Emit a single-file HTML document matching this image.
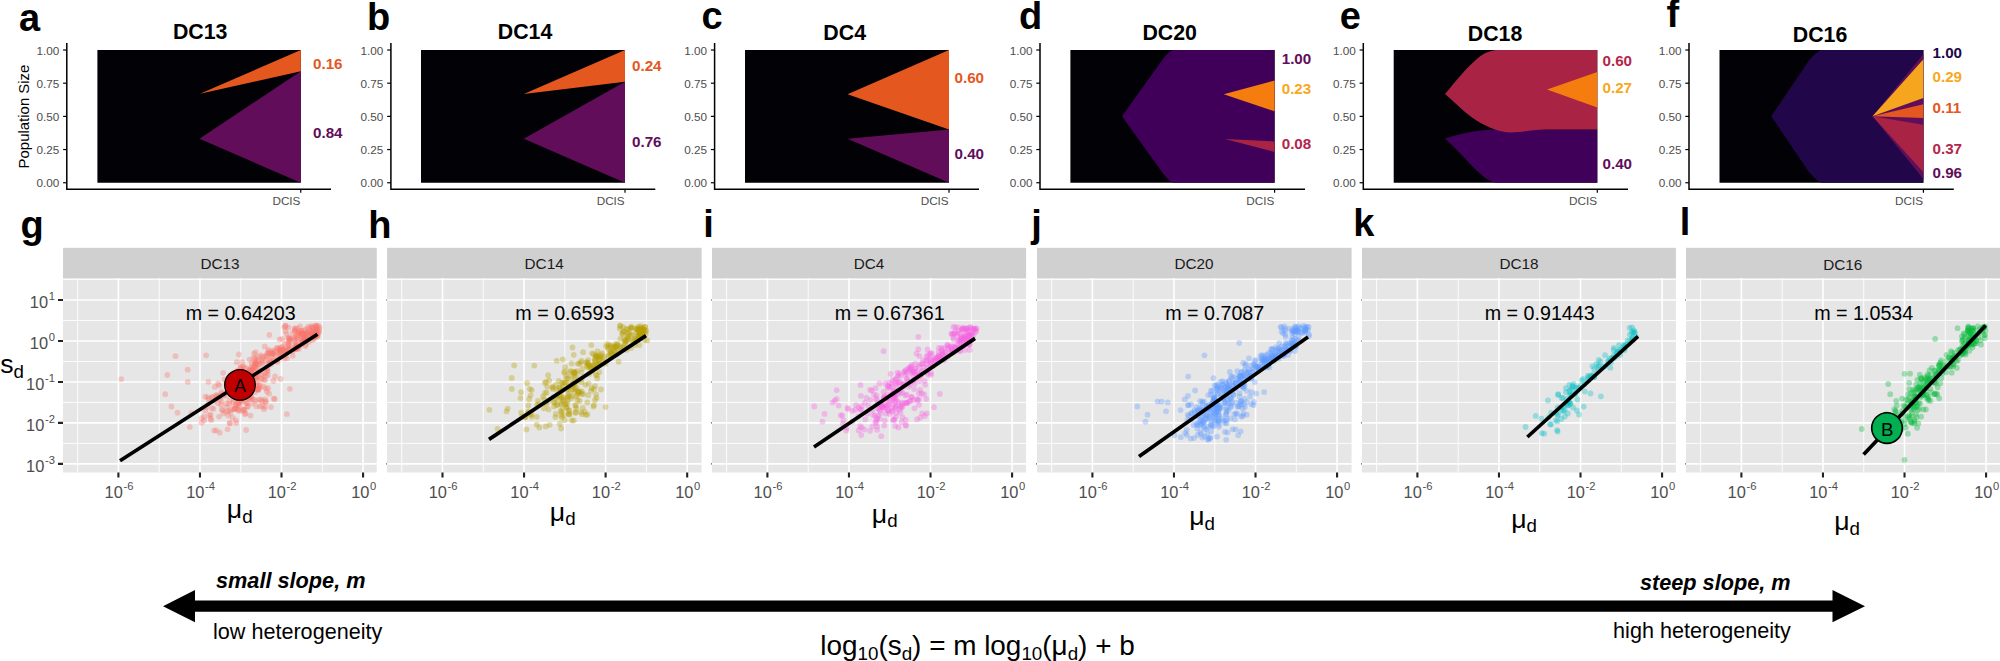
<!DOCTYPE html>
<html lang="en">
<head>
<meta charset="utf-8">
<title>Clonal heterogeneity figure</title>
<style>
html,body{margin:0;padding:0;background:#fff}
body{width:2000px;height:661px;overflow:hidden}
svg{display:block}
text{font-family:"Liberation Sans", Arial, Helvetica, sans-serif;fill:#000}
.pl{font-size:38px;font-weight:700}
.tt{font-size:21.33px;font-weight:700}
.tk{font-size:11.73px;fill:#4D4D4D}
.yl{font-size:14.95px}
.cl{font-size:15.2px;font-weight:700}
.st{font-size:15.3px;fill:#1A1A1A}
.lg{font-size:16.4px;fill:#4D4D4D}
.sp{font-size:11.2px}
.at{font-size:26.67px}
.sb{font-size:18.7px}
.mt{font-size:19.7px}
.mk{font-size:17.5px}
.bi{font-size:21.7px;font-weight:700;font-style:italic}
.cp{font-size:21.6px}
.fm{font-size:27.9px}
.fs{font-size:18.8px}
</style>
</head>
<body>
<svg width="2000" height="661" viewBox="0 0 2000 661">
<rect width="2000" height="661" fill="#fff"/>
<g id="top">
<text transform="translate(29.2 116.5) rotate(-90)" class="yl" text-anchor="middle">Population Size</text>
<path d="M66.8 43.1V189.3H331" fill="none" stroke="#000" stroke-width="1.5"/>
<path d="M63.1 182.75H66.8" stroke="#000" stroke-width="1.2"/>
<text x="59.3" y="187.35" class="tk" text-anchor="end">0.00</text>
<path d="M63.1 149.56H66.8" stroke="#000" stroke-width="1.2"/>
<text x="59.3" y="154.16" class="tk" text-anchor="end">0.25</text>
<path d="M63.1 116.38H66.8" stroke="#000" stroke-width="1.2"/>
<text x="59.3" y="120.97" class="tk" text-anchor="end">0.50</text>
<path d="M63.1 83.19H66.8" stroke="#000" stroke-width="1.2"/>
<text x="59.3" y="87.79" class="tk" text-anchor="end">0.75</text>
<path d="M63.1 50H66.8" stroke="#000" stroke-width="1.2"/>
<text x="59.3" y="54.6" class="tk" text-anchor="end">1.00</text>
<path d="M300.75 189.3V192.8" stroke="#000" stroke-width="1.2"/>
<text x="300.45" y="205.2" class="tk" text-anchor="end">DCIS</text>
<text x="19.1" y="30.6" class="pl">a</text>
<text x="200.2" y="38.7" class="tt" text-anchor="middle">DC13</text>
<rect x="97.4" y="50" width="203.4" height="132.75" fill="#020206"/>
<polygon points="200,93.75 300.8,50 300.8,71.24" fill="#E4571F"/>
<polygon points="199.5,138.75 300.8,71.24 300.8,182.75" fill="#620D5A"/>
<text x="313" y="68.6" class="cl" style="fill:#E4571F">0.16</text>
<text x="313" y="137.8" class="cl" style="fill:#620D5A">0.84</text>
<path d="M390.9 43.1V189.3H655.3" fill="none" stroke="#000" stroke-width="1.5"/>
<path d="M387.2 182.75H390.9" stroke="#000" stroke-width="1.2"/>
<text x="383.4" y="187.35" class="tk" text-anchor="end">0.00</text>
<path d="M387.2 149.56H390.9" stroke="#000" stroke-width="1.2"/>
<text x="383.4" y="154.16" class="tk" text-anchor="end">0.25</text>
<path d="M387.2 116.38H390.9" stroke="#000" stroke-width="1.2"/>
<text x="383.4" y="120.97" class="tk" text-anchor="end">0.50</text>
<path d="M387.2 83.19H390.9" stroke="#000" stroke-width="1.2"/>
<text x="383.4" y="87.79" class="tk" text-anchor="end">0.75</text>
<path d="M387.2 50H390.9" stroke="#000" stroke-width="1.2"/>
<text x="383.4" y="54.6" class="tk" text-anchor="end">1.00</text>
<path d="M625 189.3V192.8" stroke="#000" stroke-width="1.2"/>
<text x="624.7" y="205.2" class="tk" text-anchor="end">DCIS</text>
<text x="367" y="30.2" class="pl">b</text>
<text x="525" y="39" class="tt" text-anchor="middle">DC14</text>
<rect x="421" y="50" width="204" height="132.75" fill="#020206"/>
<polygon points="523.75,94 625,50 625,81.75" fill="#E4571F"/>
<polygon points="523.75,138.75 625,81.75 625,182.75" fill="#620D5A"/>
<text x="632" y="71.3" class="cl" style="fill:#E4571F">0.24</text>
<text x="632" y="147.1" class="cl" style="fill:#620D5A">0.76</text>
<path d="M714.6 43.1V189.3H979" fill="none" stroke="#000" stroke-width="1.5"/>
<path d="M710.9 182.75H714.6" stroke="#000" stroke-width="1.2"/>
<text x="707.1" y="187.35" class="tk" text-anchor="end">0.00</text>
<path d="M710.9 149.56H714.6" stroke="#000" stroke-width="1.2"/>
<text x="707.1" y="154.16" class="tk" text-anchor="end">0.25</text>
<path d="M710.9 116.38H714.6" stroke="#000" stroke-width="1.2"/>
<text x="707.1" y="120.97" class="tk" text-anchor="end">0.50</text>
<path d="M710.9 83.19H714.6" stroke="#000" stroke-width="1.2"/>
<text x="707.1" y="87.79" class="tk" text-anchor="end">0.75</text>
<path d="M710.9 50H714.6" stroke="#000" stroke-width="1.2"/>
<text x="707.1" y="54.6" class="tk" text-anchor="end">1.00</text>
<path d="M949 189.3V192.8" stroke="#000" stroke-width="1.2"/>
<text x="948.7" y="205.2" class="tk" text-anchor="end">DCIS</text>
<text x="701.5" y="29.3" class="pl">c</text>
<text x="844.7" y="40" class="tt" text-anchor="middle">DC4</text>
<rect x="745" y="50" width="204" height="132.75" fill="#020206"/>
<polygon points="847.5,94.25 949,50 949,129.5" fill="#E4571F"/>
<polygon points="847.5,138.75 949,129.5 949,182.75" fill="#620D5A"/>
<text x="954.5" y="83.1" class="cl" style="fill:#E4571F">0.60</text>
<text x="954.5" y="158.8" class="cl" style="fill:#620D5A">0.40</text>
<path d="M1040 43.1V189.3H1305" fill="none" stroke="#000" stroke-width="1.5"/>
<path d="M1036.3 182.75H1040" stroke="#000" stroke-width="1.2"/>
<text x="1032.5" y="187.35" class="tk" text-anchor="end">0.00</text>
<path d="M1036.3 149.56H1040" stroke="#000" stroke-width="1.2"/>
<text x="1032.5" y="154.16" class="tk" text-anchor="end">0.25</text>
<path d="M1036.3 116.38H1040" stroke="#000" stroke-width="1.2"/>
<text x="1032.5" y="120.97" class="tk" text-anchor="end">0.50</text>
<path d="M1036.3 83.19H1040" stroke="#000" stroke-width="1.2"/>
<text x="1032.5" y="87.79" class="tk" text-anchor="end">0.75</text>
<path d="M1036.3 50H1040" stroke="#000" stroke-width="1.2"/>
<text x="1032.5" y="54.6" class="tk" text-anchor="end">1.00</text>
<path d="M1274.6 189.3V192.8" stroke="#000" stroke-width="1.2"/>
<text x="1274.3" y="205.2" class="tk" text-anchor="end">DCIS</text>
<text x="1018.9" y="29.3" class="pl">d</text>
<text x="1169.7" y="40" class="tt" text-anchor="middle">DC20</text>
<rect x="1070.4" y="50" width="204.2" height="132.75" fill="#020206"/>
<path d="M1122 116.3 L1163 59 Q1168 52.5 1172.5 50 H1274.6 V182.75 H1172.5 Q1168 180 1163 173.6 Z" fill="#40005A"/>
<polygon points="1223.75,94.25 1274.6,80.5 1274.6,111.25" fill="#F57D0F"/>
<polygon points="1225,139 1274.6,141.5 1274.6,152" fill="#A92345"/>
<text x="1281.7" y="63.6" class="cl" style="fill:#620D5A">1.00</text>
<text x="1281.7" y="94.1" class="cl" style="fill:#F7A81D">0.23</text>
<text x="1281.7" y="149.1" class="cl" style="fill:#B3264C">0.08</text>
<path d="M1363.3 43.1V189.3H1628" fill="none" stroke="#000" stroke-width="1.5"/>
<path d="M1359.6 182.75H1363.3" stroke="#000" stroke-width="1.2"/>
<text x="1355.8" y="187.35" class="tk" text-anchor="end">0.00</text>
<path d="M1359.6 149.56H1363.3" stroke="#000" stroke-width="1.2"/>
<text x="1355.8" y="154.16" class="tk" text-anchor="end">0.25</text>
<path d="M1359.6 116.38H1363.3" stroke="#000" stroke-width="1.2"/>
<text x="1355.8" y="120.97" class="tk" text-anchor="end">0.50</text>
<path d="M1359.6 83.19H1363.3" stroke="#000" stroke-width="1.2"/>
<text x="1355.8" y="87.79" class="tk" text-anchor="end">0.75</text>
<path d="M1359.6 50H1363.3" stroke="#000" stroke-width="1.2"/>
<text x="1355.8" y="54.6" class="tk" text-anchor="end">1.00</text>
<path d="M1597.3 189.3V192.8" stroke="#000" stroke-width="1.2"/>
<text x="1597" y="205.2" class="tk" text-anchor="end">DCIS</text>
<text x="1339.8" y="28.7" class="pl">e</text>
<text x="1495" y="40.9" class="tt" text-anchor="middle">DC18</text>
<rect x="1393.7" y="50" width="203.6" height="132.75" fill="#020206"/>
<path d="M1445 138.5 C1460 134 1474 130.6 1492 129.6 L1597.3 129.6 V182.75 H1496 C1488 181 1482 176 1472 166 C1462 155 1454 147 1445 138.5 Z" fill="#40005A"/>
<path d="M1445 94 C1456 81 1466 68 1478 58 C1484 53 1489 51 1496 50 H1597.3 V129.6 H1546 C1530 130 1520 132.6 1510 132.4 C1496 132 1484 125.5 1472 117.5 C1462 110 1453 101 1445 94 Z" fill="#A92345"/>
<polygon points="1547,89.4 1597.3,72 1597.3,107.6" fill="#F57D0F"/>
<text x="1602.5" y="65.5" class="cl" style="fill:#B3264C">0.60</text>
<text x="1602.5" y="92.8" class="cl" style="fill:#F7A81D">0.27</text>
<text x="1602.5" y="169.3" class="cl" style="fill:#620D5A">0.40</text>
<path d="M1689 43.1V189.3H1953.8" fill="none" stroke="#000" stroke-width="1.5"/>
<path d="M1685.3 182.75H1689" stroke="#000" stroke-width="1.2"/>
<text x="1681.5" y="187.35" class="tk" text-anchor="end">0.00</text>
<path d="M1685.3 149.56H1689" stroke="#000" stroke-width="1.2"/>
<text x="1681.5" y="154.16" class="tk" text-anchor="end">0.25</text>
<path d="M1685.3 116.38H1689" stroke="#000" stroke-width="1.2"/>
<text x="1681.5" y="120.97" class="tk" text-anchor="end">0.50</text>
<path d="M1685.3 83.19H1689" stroke="#000" stroke-width="1.2"/>
<text x="1681.5" y="87.79" class="tk" text-anchor="end">0.75</text>
<path d="M1685.3 50H1689" stroke="#000" stroke-width="1.2"/>
<text x="1681.5" y="54.6" class="tk" text-anchor="end">1.00</text>
<path d="M1923.4 189.3V192.8" stroke="#000" stroke-width="1.2"/>
<text x="1923.1" y="205.2" class="tk" text-anchor="end">DCIS</text>
<text x="1666.5" y="26.9" class="pl">f</text>
<text x="1820" y="41.9" class="tt" text-anchor="middle">DC16</text>
<rect x="1719.5" y="50" width="203.9" height="132.75" fill="#020206"/>
<path d="M1771.2 116.3 L1807.5 62.5 Q1813.5 54 1821 50 H1923.4 V182.75 H1821 Q1813.5 178.5 1807.5 170 Z" fill="#21064A"/>
<polygon points="1872.5,116.3 1923.4,54.1 1923.4,179" fill="#620D5A"/>
<polygon points="1872.5,116.3 1923.4,59.3 1923.4,98" fill="#F6A61E"/>
<polygon points="1872.5,116.3 1923.4,104.3 1923.4,118" fill="#E4571F"/>
<polygon points="1872.5,116.3 1923.4,124.8 1923.4,172.3" fill="#A92345"/>
<text x="1932.5" y="58" class="cl" style="fill:#21064A">1.00</text>
<text x="1932.5" y="82.3" class="cl" style="fill:#F7A81D">0.29</text>
<text x="1932.5" y="113.2" class="cl" style="fill:#E4571F">0.11</text>
<text x="1932.5" y="153.5" class="cl" style="fill:#B3264C">0.37</text>
<text x="1932.5" y="177.8" class="cl" style="fill:#620D5A">0.96</text>
</g>
<g id="bottom">
<g>
<rect x="63" y="247.8" width="313.75" height="30.5" fill="#D0D0D0"/>
<rect x="63" y="278.3" width="313.75" height="194.2" fill="#E6E6E6"/>
<text x="220" y="269.4" class="st" text-anchor="middle">DC13</text>
<path d="M63 279.57H376.75M63 320.52H376.75M63 361.48H376.75M63 402.43H376.75M63 443.38H376.75M77.62 278.3V472.5M159.18 278.3V472.5M240.74 278.3V472.5M322.3 278.3V472.5" stroke="#fff" stroke-width="0.9" fill="none"/>
<path d="M63 300.05H376.75M63 341H376.75M63 381.95H376.75M63 422.9H376.75M63 463.85H376.75M118.4 278.3V472.5M199.96 278.3V472.5M281.52 278.3V472.5M363.08 278.3V472.5" stroke="#fff" stroke-width="1.6" fill="none"/>
<text x="119" y="498.2" class="lg" text-anchor="middle">10<tspan class="sp" dx="0.6" dy="-8.1">-6</tspan></text>
<text x="200.56" y="498.2" class="lg" text-anchor="middle">10<tspan class="sp" dx="0.6" dy="-8.1">-4</tspan></text>
<text x="282.12" y="498.2" class="lg" text-anchor="middle">10<tspan class="sp" dx="0.6" dy="-8.1">-2</tspan></text>
<text x="363.68" y="498.2" class="lg" text-anchor="middle">10<tspan class="sp" dx="0.6" dy="-8.1">0</tspan></text>
<path d="M118.4 472.5V477.5M199.96 472.5V477.5M281.52 472.5V477.5M363.08 472.5V477.5" stroke="#222" stroke-width="2.1" fill="none"/>
<text x="226.8" y="518.2" class="at">μ<tspan class="sb" dy="4.6">d</tspan></text>
<g fill="#F8766D" fill-opacity="0.34"><circle cx="240.0" cy="399.8" r="2.9"/><circle cx="313.4" cy="335.4" r="2.9"/><circle cx="273.5" cy="353.1" r="2.9"/><circle cx="311.2" cy="326.1" r="2.9"/><circle cx="247.5" cy="384.4" r="2.9"/><circle cx="287.8" cy="349.2" r="2.9"/><circle cx="191.5" cy="413.2" r="2.9"/><circle cx="256.8" cy="383.9" r="2.9"/><circle cx="230.4" cy="380.0" r="2.9"/><circle cx="303.1" cy="341.0" r="2.9"/><circle cx="286.2" cy="351.9" r="2.9"/><circle cx="219.1" cy="385.5" r="2.9"/><circle cx="255.7" cy="362.5" r="2.9"/><circle cx="242.2" cy="362.2" r="2.9"/><circle cx="258.4" cy="389.4" r="2.9"/><circle cx="289.4" cy="348.8" r="2.9"/><circle cx="297.9" cy="332.6" r="2.9"/><circle cx="266.8" cy="391.6" r="2.9"/><circle cx="250.7" cy="367.3" r="2.9"/><circle cx="265.1" cy="399.3" r="2.9"/><circle cx="262.9" cy="358.0" r="2.9"/><circle cx="316.7" cy="326.9" r="2.9"/><circle cx="312.8" cy="327.3" r="2.9"/><circle cx="251.7" cy="372.8" r="2.9"/><circle cx="252.7" cy="369.7" r="2.9"/><circle cx="238.5" cy="410.5" r="2.9"/><circle cx="246.1" cy="430.0" r="2.9"/><circle cx="239.4" cy="405.7" r="2.9"/><circle cx="234.3" cy="409.1" r="2.9"/><circle cx="235.5" cy="396.0" r="2.9"/><circle cx="304.6" cy="330.5" r="2.9"/><circle cx="167.3" cy="375.0" r="2.9"/><circle cx="213.5" cy="408.8" r="2.9"/><circle cx="295.1" cy="341.3" r="2.9"/><circle cx="253.6" cy="357.8" r="2.9"/><circle cx="235.9" cy="420.4" r="2.9"/><circle cx="256.8" cy="385.2" r="2.9"/><circle cx="298.8" cy="348.9" r="2.9"/><circle cx="223.2" cy="372.8" r="2.9"/><circle cx="226.0" cy="403.6" r="2.9"/><circle cx="238.5" cy="392.0" r="2.9"/><circle cx="307.8" cy="334.9" r="2.9"/><circle cx="243.8" cy="374.8" r="2.9"/><circle cx="252.6" cy="382.2" r="2.9"/><circle cx="289.7" cy="348.7" r="2.9"/><circle cx="317.5" cy="336.2" r="2.9"/><circle cx="239.1" cy="375.8" r="2.9"/><circle cx="274.8" cy="399.0" r="2.9"/><circle cx="302.6" cy="342.8" r="2.9"/><circle cx="238.8" cy="354.5" r="2.9"/><circle cx="231.6" cy="375.7" r="2.9"/><circle cx="305.0" cy="339.5" r="2.9"/><circle cx="187.7" cy="381.9" r="2.9"/><circle cx="234.5" cy="381.4" r="2.9"/><circle cx="249.6" cy="387.5" r="2.9"/><circle cx="246.8" cy="387.1" r="2.9"/><circle cx="240.7" cy="367.3" r="2.9"/><circle cx="236.2" cy="376.0" r="2.9"/><circle cx="256.7" cy="363.6" r="2.9"/><circle cx="314.7" cy="332.3" r="2.9"/><circle cx="267.0" cy="364.4" r="2.9"/><circle cx="256.3" cy="406.3" r="2.9"/><circle cx="258.2" cy="368.1" r="2.9"/><circle cx="177.5" cy="412.7" r="2.9"/><circle cx="210.6" cy="414.6" r="2.9"/><circle cx="218.0" cy="383.5" r="2.9"/><circle cx="244.4" cy="375.9" r="2.9"/><circle cx="280.1" cy="351.2" r="2.9"/><circle cx="313.3" cy="331.4" r="2.9"/><circle cx="304.5" cy="339.6" r="2.9"/><circle cx="265.6" cy="369.6" r="2.9"/><circle cx="295.5" cy="347.2" r="2.9"/><circle cx="251.1" cy="370.9" r="2.9"/><circle cx="315.5" cy="328.9" r="2.9"/><circle cx="274.6" cy="351.3" r="2.9"/><circle cx="301.6" cy="331.1" r="2.9"/><circle cx="214.7" cy="400.7" r="2.9"/><circle cx="230.0" cy="423.6" r="2.9"/><circle cx="319.5" cy="327.3" r="2.9"/><circle cx="265.0" cy="406.9" r="2.9"/><circle cx="260.0" cy="406.6" r="2.9"/><circle cx="277.6" cy="348.3" r="2.9"/><circle cx="226.1" cy="411.6" r="2.9"/><circle cx="234.9" cy="408.6" r="2.9"/><circle cx="305.3" cy="338.3" r="2.9"/><circle cx="305.1" cy="339.8" r="2.9"/><circle cx="294.7" cy="328.1" r="2.9"/><circle cx="312.1" cy="333.7" r="2.9"/><circle cx="261.5" cy="362.2" r="2.9"/><circle cx="236.8" cy="362.1" r="2.9"/><circle cx="265.5" cy="401.4" r="2.9"/><circle cx="268.0" cy="375.0" r="2.9"/><circle cx="244.8" cy="401.0" r="2.9"/><circle cx="288.4" cy="327.4" r="2.9"/><circle cx="208.6" cy="403.1" r="2.9"/><circle cx="242.9" cy="378.9" r="2.9"/><circle cx="248.3" cy="397.6" r="2.9"/><circle cx="307.6" cy="335.2" r="2.9"/><circle cx="250.2" cy="380.1" r="2.9"/><circle cx="221.4" cy="393.7" r="2.9"/><circle cx="283.5" cy="349.7" r="2.9"/><circle cx="289.7" cy="338.6" r="2.9"/><circle cx="279.6" cy="339.4" r="2.9"/><circle cx="189.8" cy="427.1" r="2.9"/><circle cx="245.5" cy="368.2" r="2.9"/><circle cx="236.2" cy="423.1" r="2.9"/><circle cx="311.9" cy="334.3" r="2.9"/><circle cx="289.9" cy="388.8" r="2.9"/><circle cx="255.5" cy="363.6" r="2.9"/><circle cx="273.8" cy="361.0" r="2.9"/><circle cx="218.8" cy="396.7" r="2.9"/><circle cx="263.9" cy="409.2" r="2.9"/><circle cx="295.9" cy="345.3" r="2.9"/><circle cx="262.5" cy="374.9" r="2.9"/><circle cx="287.1" cy="358.3" r="2.9"/><circle cx="267.2" cy="367.6" r="2.9"/><circle cx="301.8" cy="339.3" r="2.9"/><circle cx="302.0" cy="333.3" r="2.9"/><circle cx="250.0" cy="370.7" r="2.9"/><circle cx="314.0" cy="338.8" r="2.9"/><circle cx="251.1" cy="371.4" r="2.9"/><circle cx="270.5" cy="351.9" r="2.9"/><circle cx="295.1" cy="331.5" r="2.9"/><circle cx="297.1" cy="346.9" r="2.9"/><circle cx="221.9" cy="409.4" r="2.9"/><circle cx="236.3" cy="391.0" r="2.9"/><circle cx="237.1" cy="399.2" r="2.9"/><circle cx="301.0" cy="345.0" r="2.9"/><circle cx="231.7" cy="380.3" r="2.9"/><circle cx="315.8" cy="326.6" r="2.9"/><circle cx="229.4" cy="403.9" r="2.9"/><circle cx="241.1" cy="400.2" r="2.9"/><circle cx="252.8" cy="378.1" r="2.9"/><circle cx="311.4" cy="327.4" r="2.9"/><circle cx="231.7" cy="393.9" r="2.9"/><circle cx="252.1" cy="378.3" r="2.9"/><circle cx="267.6" cy="370.1" r="2.9"/><circle cx="265.4" cy="376.0" r="2.9"/><circle cx="315.5" cy="325.7" r="2.9"/><circle cx="306.6" cy="337.6" r="2.9"/><circle cx="283.0" cy="350.3" r="2.9"/><circle cx="261.3" cy="399.7" r="2.9"/><circle cx="208.4" cy="381.8" r="2.9"/><circle cx="281.9" cy="356.7" r="2.9"/><circle cx="261.9" cy="379.1" r="2.9"/><circle cx="268.2" cy="351.9" r="2.9"/><circle cx="265.7" cy="360.0" r="2.9"/><circle cx="243.7" cy="410.0" r="2.9"/><circle cx="226.2" cy="395.5" r="2.9"/><circle cx="201.5" cy="422.7" r="2.9"/><circle cx="259.0" cy="384.4" r="2.9"/><circle cx="233.1" cy="374.1" r="2.9"/><circle cx="280.5" cy="379.0" r="2.9"/><circle cx="212.5" cy="397.4" r="2.9"/><circle cx="228.5" cy="410.8" r="2.9"/><circle cx="232.0" cy="391.7" r="2.9"/><circle cx="261.9" cy="401.3" r="2.9"/><circle cx="239.2" cy="378.6" r="2.9"/><circle cx="224.3" cy="393.8" r="2.9"/><circle cx="214.1" cy="430.6" r="2.9"/><circle cx="238.7" cy="396.0" r="2.9"/><circle cx="251.9" cy="399.0" r="2.9"/><circle cx="250.5" cy="415.6" r="2.9"/><circle cx="258.8" cy="360.9" r="2.9"/><circle cx="305.9" cy="344.6" r="2.9"/><circle cx="251.1" cy="397.4" r="2.9"/><circle cx="317.0" cy="334.5" r="2.9"/><circle cx="240.8" cy="411.0" r="2.9"/><circle cx="248.6" cy="380.5" r="2.9"/><circle cx="258.0" cy="389.2" r="2.9"/><circle cx="247.6" cy="406.4" r="2.9"/><circle cx="165.3" cy="394.2" r="2.9"/><circle cx="243.5" cy="390.1" r="2.9"/><circle cx="316.8" cy="329.4" r="2.9"/><circle cx="271.7" cy="353.7" r="2.9"/><circle cx="230.1" cy="383.9" r="2.9"/><circle cx="294.5" cy="344.3" r="2.9"/><circle cx="289.6" cy="340.0" r="2.9"/><circle cx="312.3" cy="340.0" r="2.9"/><circle cx="264.7" cy="346.4" r="2.9"/><circle cx="245.6" cy="389.5" r="2.9"/><circle cx="273.3" cy="352.8" r="2.9"/><circle cx="249.6" cy="359.6" r="2.9"/><circle cx="256.8" cy="379.0" r="2.9"/><circle cx="277.1" cy="360.1" r="2.9"/><circle cx="237.9" cy="409.6" r="2.9"/><circle cx="286.8" cy="352.2" r="2.9"/><circle cx="295.1" cy="329.1" r="2.9"/><circle cx="237.5" cy="370.6" r="2.9"/><circle cx="302.1" cy="336.6" r="2.9"/><circle cx="216.9" cy="395.0" r="2.9"/><circle cx="308.8" cy="341.9" r="2.9"/><circle cx="280.7" cy="350.3" r="2.9"/><circle cx="296.2" cy="347.0" r="2.9"/><circle cx="219.8" cy="432.7" r="2.9"/><circle cx="284.5" cy="358.6" r="2.9"/><circle cx="254.6" cy="364.3" r="2.9"/><circle cx="285.7" cy="326.0" r="2.9"/><circle cx="279.5" cy="350.1" r="2.9"/><circle cx="232.9" cy="402.8" r="2.9"/><circle cx="239.4" cy="383.9" r="2.9"/><circle cx="210.8" cy="418.4" r="2.9"/><circle cx="267.4" cy="371.6" r="2.9"/><circle cx="211.8" cy="408.2" r="2.9"/><circle cx="313.1" cy="328.5" r="2.9"/><circle cx="298.6" cy="332.8" r="2.9"/><circle cx="242.8" cy="366.7" r="2.9"/><circle cx="294.9" cy="330.5" r="2.9"/><circle cx="255.4" cy="366.6" r="2.9"/><circle cx="316.2" cy="332.4" r="2.9"/><circle cx="235.6" cy="397.9" r="2.9"/><circle cx="247.6" cy="373.3" r="2.9"/><circle cx="284.3" cy="327.3" r="2.9"/><circle cx="253.0" cy="380.1" r="2.9"/><circle cx="222.5" cy="410.6" r="2.9"/><circle cx="243.1" cy="375.6" r="2.9"/><circle cx="316.3" cy="325.6" r="2.9"/><circle cx="273.8" cy="398.7" r="2.9"/><circle cx="207.7" cy="397.5" r="2.9"/><circle cx="288.5" cy="343.6" r="2.9"/><circle cx="276.7" cy="347.9" r="2.9"/><circle cx="216.3" cy="430.3" r="2.9"/><circle cx="236.3" cy="404.7" r="2.9"/><circle cx="270.9" cy="407.1" r="2.9"/><circle cx="315.9" cy="332.3" r="2.9"/><circle cx="246.3" cy="402.4" r="2.9"/><circle cx="278.4" cy="353.8" r="2.9"/><circle cx="280.0" cy="352.4" r="2.9"/><circle cx="305.4" cy="346.0" r="2.9"/><circle cx="269.2" cy="363.3" r="2.9"/><circle cx="238.2" cy="397.1" r="2.9"/><circle cx="259.6" cy="399.6" r="2.9"/><circle cx="229.6" cy="422.9" r="2.9"/><circle cx="290.2" cy="339.0" r="2.9"/><circle cx="201.7" cy="418.1" r="2.9"/><circle cx="315.2" cy="336.1" r="2.9"/><circle cx="227.6" cy="429.3" r="2.9"/><circle cx="256.2" cy="389.3" r="2.9"/><circle cx="232.2" cy="392.3" r="2.9"/><circle cx="303.4" cy="337.3" r="2.9"/><circle cx="271.4" cy="360.3" r="2.9"/><circle cx="242.9" cy="377.8" r="2.9"/><circle cx="243.0" cy="409.4" r="2.9"/><circle cx="301.7" cy="333.4" r="2.9"/><circle cx="255.1" cy="358.3" r="2.9"/><circle cx="205.4" cy="410.5" r="2.9"/><circle cx="241.1" cy="369.6" r="2.9"/><circle cx="233.6" cy="391.4" r="2.9"/><circle cx="221.0" cy="401.0" r="2.9"/><circle cx="250.3" cy="376.7" r="2.9"/><circle cx="297.2" cy="328.5" r="2.9"/><circle cx="317.6" cy="335.7" r="2.9"/><circle cx="305.9" cy="337.3" r="2.9"/><circle cx="313.1" cy="337.2" r="2.9"/><circle cx="204.2" cy="420.4" r="2.9"/><circle cx="282.3" cy="338.8" r="2.9"/><circle cx="215.4" cy="395.8" r="2.9"/><circle cx="309.4" cy="331.3" r="2.9"/><circle cx="307.1" cy="340.0" r="2.9"/><circle cx="229.3" cy="400.7" r="2.9"/><circle cx="300.1" cy="326.3" r="2.9"/><circle cx="270.0" cy="362.3" r="2.9"/><circle cx="280.8" cy="353.8" r="2.9"/><circle cx="211.9" cy="397.2" r="2.9"/><circle cx="299.8" cy="330.6" r="2.9"/><circle cx="224.5" cy="379.5" r="2.9"/><circle cx="303.8" cy="335.5" r="2.9"/><circle cx="301.6" cy="331.2" r="2.9"/><circle cx="293.5" cy="337.8" r="2.9"/><circle cx="238.2" cy="405.8" r="2.9"/><circle cx="300.6" cy="334.0" r="2.9"/><circle cx="305.5" cy="333.6" r="2.9"/><circle cx="279.1" cy="349.0" r="2.9"/><circle cx="297.6" cy="342.0" r="2.9"/><circle cx="121.3" cy="379.1" r="2.9"/><circle cx="254.0" cy="353.6" r="2.9"/><circle cx="233.5" cy="378.9" r="2.9"/><circle cx="292.7" cy="355.8" r="2.9"/><circle cx="256.0" cy="400.9" r="2.9"/><circle cx="280.6" cy="347.5" r="2.9"/><circle cx="214.8" cy="386.9" r="2.9"/><circle cx="255.1" cy="378.1" r="2.9"/><circle cx="260.0" cy="386.0" r="2.9"/><circle cx="264.0" cy="379.7" r="2.9"/><circle cx="313.7" cy="335.2" r="2.9"/><circle cx="285.2" cy="325.8" r="2.9"/><circle cx="249.5" cy="369.8" r="2.9"/><circle cx="297.6" cy="347.7" r="2.9"/><circle cx="228.2" cy="415.5" r="2.9"/><circle cx="259.2" cy="387.7" r="2.9"/><circle cx="249.3" cy="371.5" r="2.9"/><circle cx="252.9" cy="367.0" r="2.9"/><circle cx="277.5" cy="362.1" r="2.9"/><circle cx="317.5" cy="331.8" r="2.9"/><circle cx="316.9" cy="330.9" r="2.9"/><circle cx="296.8" cy="346.6" r="2.9"/><circle cx="254.8" cy="399.9" r="2.9"/><circle cx="252.3" cy="403.6" r="2.9"/><circle cx="227.1" cy="406.8" r="2.9"/><circle cx="268.4" cy="349.7" r="2.9"/><circle cx="292.6" cy="351.6" r="2.9"/><circle cx="315.3" cy="337.3" r="2.9"/><circle cx="211.2" cy="420.2" r="2.9"/><circle cx="318.9" cy="329.5" r="2.9"/><circle cx="255.9" cy="368.0" r="2.9"/><circle cx="233.7" cy="400.1" r="2.9"/><circle cx="244.6" cy="367.5" r="2.9"/><circle cx="309.1" cy="328.5" r="2.9"/><circle cx="247.1" cy="390.6" r="2.9"/><circle cx="258.0" cy="389.2" r="2.9"/><circle cx="285.5" cy="355.8" r="2.9"/><circle cx="312.0" cy="332.9" r="2.9"/><circle cx="289.5" cy="341.0" r="2.9"/><circle cx="259.8" cy="364.2" r="2.9"/><circle cx="286.6" cy="334.0" r="2.9"/><circle cx="204.2" cy="416.5" r="2.9"/><circle cx="221.2" cy="404.7" r="2.9"/><circle cx="257.8" cy="373.2" r="2.9"/><circle cx="244.9" cy="397.3" r="2.9"/><circle cx="316.0" cy="336.3" r="2.9"/><circle cx="295.1" cy="348.9" r="2.9"/><circle cx="252.3" cy="380.1" r="2.9"/><circle cx="251.1" cy="396.4" r="2.9"/><circle cx="235.8" cy="405.0" r="2.9"/><circle cx="284.7" cy="343.6" r="2.9"/><circle cx="276.1" cy="356.2" r="2.9"/><circle cx="314.8" cy="332.3" r="2.9"/><circle cx="251.0" cy="379.9" r="2.9"/><circle cx="256.9" cy="377.6" r="2.9"/><circle cx="309.7" cy="332.3" r="2.9"/><circle cx="278.0" cy="358.9" r="2.9"/><circle cx="271.4" cy="354.4" r="2.9"/><circle cx="209.0" cy="398.8" r="2.9"/><circle cx="262.3" cy="405.9" r="2.9"/><circle cx="235.5" cy="408.5" r="2.9"/><circle cx="307.2" cy="332.6" r="2.9"/><circle cx="267.1" cy="353.6" r="2.9"/><circle cx="258.0" cy="390.3" r="2.9"/><circle cx="296.5" cy="349.2" r="2.9"/><circle cx="266.4" cy="355.6" r="2.9"/><circle cx="251.2" cy="373.6" r="2.9"/><circle cx="285.6" cy="348.3" r="2.9"/><circle cx="209.3" cy="415.4" r="2.9"/><circle cx="251.2" cy="375.7" r="2.9"/><circle cx="265.1" cy="380.1" r="2.9"/><circle cx="288.6" cy="337.5" r="2.9"/><circle cx="294.1" cy="339.6" r="2.9"/><circle cx="311.5" cy="335.7" r="2.9"/><circle cx="282.3" cy="346.7" r="2.9"/><circle cx="289.5" cy="346.4" r="2.9"/><circle cx="255.7" cy="352.2" r="2.9"/><circle cx="187.7" cy="369.7" r="2.9"/><circle cx="241.1" cy="402.0" r="2.9"/><circle cx="268.9" cy="353.7" r="2.9"/><circle cx="284.4" cy="353.1" r="2.9"/><circle cx="269.2" cy="360.5" r="2.9"/><circle cx="253.8" cy="370.5" r="2.9"/><circle cx="285.6" cy="331.2" r="2.9"/><circle cx="266.7" cy="356.4" r="2.9"/><circle cx="318.7" cy="332.8" r="2.9"/><circle cx="232.7" cy="378.4" r="2.9"/><circle cx="273.4" cy="381.0" r="2.9"/><circle cx="303.7" cy="334.0" r="2.9"/><circle cx="250.9" cy="369.1" r="2.9"/><circle cx="288.5" cy="342.9" r="2.9"/><circle cx="319.0" cy="331.5" r="2.9"/><circle cx="260.3" cy="378.8" r="2.9"/><circle cx="206.5" cy="407.3" r="2.9"/><circle cx="295.2" cy="337.6" r="2.9"/><circle cx="268.2" cy="388.2" r="2.9"/><circle cx="261.8" cy="363.7" r="2.9"/><circle cx="257.2" cy="376.9" r="2.9"/><circle cx="284.7" cy="350.4" r="2.9"/><circle cx="255.1" cy="365.1" r="2.9"/><circle cx="240.3" cy="400.7" r="2.9"/><circle cx="230.9" cy="409.8" r="2.9"/><circle cx="284.1" cy="351.6" r="2.9"/><circle cx="242.7" cy="371.3" r="2.9"/><circle cx="244.1" cy="371.8" r="2.9"/><circle cx="254.8" cy="361.8" r="2.9"/><circle cx="233.1" cy="383.7" r="2.9"/><circle cx="253.7" cy="368.6" r="2.9"/><circle cx="257.0" cy="364.3" r="2.9"/><circle cx="249.2" cy="397.7" r="2.9"/><circle cx="223.0" cy="396.0" r="2.9"/><circle cx="265.9" cy="402.1" r="2.9"/><circle cx="219.5" cy="399.0" r="2.9"/><circle cx="305.5" cy="341.2" r="2.9"/><circle cx="206.1" cy="355.3" r="2.9"/><circle cx="219.1" cy="416.6" r="2.9"/><circle cx="300.6" cy="334.0" r="2.9"/><circle cx="249.9" cy="399.1" r="2.9"/><circle cx="302.0" cy="340.1" r="2.9"/><circle cx="305.5" cy="329.5" r="2.9"/><circle cx="306.3" cy="332.9" r="2.9"/><circle cx="248.3" cy="393.6" r="2.9"/><circle cx="302.9" cy="342.5" r="2.9"/><circle cx="245.5" cy="413.3" r="2.9"/><circle cx="254.8" cy="376.9" r="2.9"/><circle cx="240.3" cy="378.5" r="2.9"/><circle cx="288.5" cy="338.2" r="2.9"/><circle cx="233.8" cy="409.0" r="2.9"/><circle cx="275.1" cy="376.4" r="2.9"/><circle cx="247.5" cy="406.7" r="2.9"/><circle cx="245.0" cy="414.3" r="2.9"/><circle cx="314.1" cy="336.8" r="2.9"/><circle cx="294.6" cy="348.5" r="2.9"/><circle cx="273.5" cy="354.1" r="2.9"/><circle cx="292.6" cy="333.0" r="2.9"/><circle cx="297.3" cy="337.2" r="2.9"/><circle cx="175.5" cy="356.2" r="2.9"/><circle cx="262.6" cy="356.4" r="2.9"/><circle cx="217.4" cy="396.1" r="2.9"/><circle cx="288.5" cy="345.4" r="2.9"/><circle cx="254.8" cy="392.1" r="2.9"/><circle cx="270.6" cy="364.5" r="2.9"/><circle cx="279.6" cy="352.9" r="2.9"/><circle cx="238.4" cy="398.2" r="2.9"/><circle cx="311.4" cy="334.5" r="2.9"/><circle cx="230.4" cy="412.7" r="2.9"/><circle cx="303.8" cy="335.3" r="2.9"/><circle cx="271.9" cy="357.1" r="2.9"/><circle cx="297.8" cy="345.6" r="2.9"/><circle cx="261.0" cy="374.2" r="2.9"/><circle cx="232.0" cy="390.2" r="2.9"/><circle cx="256.9" cy="359.5" r="2.9"/><circle cx="232.6" cy="417.7" r="2.9"/><circle cx="236.9" cy="371.9" r="2.9"/><circle cx="295.9" cy="348.8" r="2.9"/><circle cx="244.6" cy="409.9" r="2.9"/><circle cx="247.3" cy="403.2" r="2.9"/><circle cx="171.4" cy="406.5" r="2.9"/><circle cx="318.2" cy="326.0" r="2.9"/><circle cx="273.3" cy="350.3" r="2.9"/><circle cx="298.7" cy="346.6" r="2.9"/><circle cx="205.4" cy="396.7" r="2.9"/><circle cx="237.7" cy="378.9" r="2.9"/><circle cx="238.3" cy="403.0" r="2.9"/><circle cx="218.0" cy="403.4" r="2.9"/><circle cx="297.8" cy="335.1" r="2.9"/><circle cx="258.2" cy="356.9" r="2.9"/><circle cx="238.8" cy="372.0" r="2.9"/><circle cx="298.4" cy="339.8" r="2.9"/><circle cx="262.4" cy="360.4" r="2.9"/><circle cx="260.8" cy="355.4" r="2.9"/><circle cx="282.2" cy="348.5" r="2.9"/><circle cx="251.8" cy="363.0" r="2.9"/><circle cx="265.5" cy="373.4" r="2.9"/><circle cx="296.9" cy="335.8" r="2.9"/><circle cx="221.5" cy="392.0" r="2.9"/><circle cx="223.6" cy="413.4" r="2.9"/><circle cx="248.3" cy="379.1" r="2.9"/><circle cx="314.5" cy="334.7" r="2.9"/><circle cx="286.9" cy="414.1" r="2.9"/><circle cx="236.6" cy="393.0" r="2.9"/><circle cx="313.9" cy="333.8" r="2.9"/><circle cx="307.9" cy="326.9" r="2.9"/><circle cx="269.1" cy="393.7" r="2.9"/><circle cx="269.3" cy="334.9" r="2.9"/><circle cx="238.4" cy="403.1" r="2.9"/><circle cx="307.1" cy="333.8" r="2.9"/><circle cx="313.3" cy="331.3" r="2.9"/><circle cx="240.7" cy="367.1" r="2.9"/><circle cx="263.4" cy="386.7" r="2.9"/><circle cx="265.7" cy="388.3" r="2.9"/></g>
<path d="M120 460.75L317.5 334.25" stroke="#000" stroke-width="3.7" fill="none"/>
<text x="240.74" y="320" class="mt" text-anchor="middle">m = 0.64203</text>
<text x="20.5" y="238" class="pl">g</text>
</g>
<g>
<rect x="387.1" y="247.8" width="314.5" height="30.5" fill="#D0D0D0"/>
<rect x="387.1" y="278.3" width="314.5" height="194.2" fill="#E6E6E6"/>
<text x="544.1" y="269.4" class="st" text-anchor="middle">DC14</text>
<path d="M387.1 279.57H701.6M387.1 320.52H701.6M387.1 361.48H701.6M387.1 402.43H701.6M387.1 443.38H701.6M401.72 278.3V472.5M483.28 278.3V472.5M564.84 278.3V472.5M646.4 278.3V472.5" stroke="#fff" stroke-width="0.9" fill="none"/>
<path d="M387.1 300.05H701.6M387.1 341H701.6M387.1 381.95H701.6M387.1 422.9H701.6M387.1 463.85H701.6M442.5 278.3V472.5M524.06 278.3V472.5M605.62 278.3V472.5M687.18 278.3V472.5" stroke="#fff" stroke-width="1.6" fill="none"/>
<path d="M386.2 300.05H387.1M386.2 341H387.1M386.2 381.95H387.1M386.2 422.9H387.1M386.2 463.85H387.1" stroke="#444" stroke-width="1.1" fill="none"/>
<text x="443.1" y="498.2" class="lg" text-anchor="middle">10<tspan class="sp" dx="0.6" dy="-8.1">-6</tspan></text>
<text x="524.66" y="498.2" class="lg" text-anchor="middle">10<tspan class="sp" dx="0.6" dy="-8.1">-4</tspan></text>
<text x="606.22" y="498.2" class="lg" text-anchor="middle">10<tspan class="sp" dx="0.6" dy="-8.1">-2</tspan></text>
<text x="687.78" y="498.2" class="lg" text-anchor="middle">10<tspan class="sp" dx="0.6" dy="-8.1">0</tspan></text>
<path d="M442.5 472.5V477.5M524.06 472.5V477.5M605.62 472.5V477.5M687.18 472.5V477.5" stroke="#222" stroke-width="2.1" fill="none"/>
<text x="549.8" y="520.8" class="at">μ<tspan class="sb" dy="4.6">d</tspan></text>
<g fill="#B79F00" fill-opacity="0.34"><circle cx="594.8" cy="360.9" r="2.9"/><circle cx="609.1" cy="354.7" r="2.9"/><circle cx="597.6" cy="351.3" r="2.9"/><circle cx="623.6" cy="347.0" r="2.9"/><circle cx="564.2" cy="372.8" r="2.9"/><circle cx="602.3" cy="353.1" r="2.9"/><circle cx="571.3" cy="386.5" r="2.9"/><circle cx="639.1" cy="329.5" r="2.9"/><circle cx="640.8" cy="326.2" r="2.9"/><circle cx="645.7" cy="334.2" r="2.9"/><circle cx="644.1" cy="330.2" r="2.9"/><circle cx="543.9" cy="408.3" r="2.9"/><circle cx="571.8" cy="396.1" r="2.9"/><circle cx="583.1" cy="352.2" r="2.9"/><circle cx="600.3" cy="358.5" r="2.9"/><circle cx="563.6" cy="398.0" r="2.9"/><circle cx="587.4" cy="414.5" r="2.9"/><circle cx="598.6" cy="356.7" r="2.9"/><circle cx="581.4" cy="382.2" r="2.9"/><circle cx="577.7" cy="400.2" r="2.9"/><circle cx="573.8" cy="354.8" r="2.9"/><circle cx="638.5" cy="329.4" r="2.9"/><circle cx="595.8" cy="356.1" r="2.9"/><circle cx="572.5" cy="347.5" r="2.9"/><circle cx="611.0" cy="345.3" r="2.9"/><circle cx="530.6" cy="395.3" r="2.9"/><circle cx="581.0" cy="362.3" r="2.9"/><circle cx="568.8" cy="396.3" r="2.9"/><circle cx="625.6" cy="340.2" r="2.9"/><circle cx="597.3" cy="378.4" r="2.9"/><circle cx="590.5" cy="366.4" r="2.9"/><circle cx="588.8" cy="367.4" r="2.9"/><circle cx="549.2" cy="400.5" r="2.9"/><circle cx="608.5" cy="345.5" r="2.9"/><circle cx="620.5" cy="347.3" r="2.9"/><circle cx="560.7" cy="392.4" r="2.9"/><circle cx="584.7" cy="411.6" r="2.9"/><circle cx="573.9" cy="382.7" r="2.9"/><circle cx="627.6" cy="336.3" r="2.9"/><circle cx="640.5" cy="333.8" r="2.9"/><circle cx="593.5" cy="406.6" r="2.9"/><circle cx="577.3" cy="394.8" r="2.9"/><circle cx="507.7" cy="408.6" r="2.9"/><circle cx="599.4" cy="364.1" r="2.9"/><circle cx="558.8" cy="380.8" r="2.9"/><circle cx="563.6" cy="400.2" r="2.9"/><circle cx="596.8" cy="355.2" r="2.9"/><circle cx="623.5" cy="347.8" r="2.9"/><circle cx="595.7" cy="356.6" r="2.9"/><circle cx="574.7" cy="391.3" r="2.9"/><circle cx="568.0" cy="400.2" r="2.9"/><circle cx="528.5" cy="411.4" r="2.9"/><circle cx="553.0" cy="388.9" r="2.9"/><circle cx="514.2" cy="365.4" r="2.9"/><circle cx="527.1" cy="383.2" r="2.9"/><circle cx="633.5" cy="339.9" r="2.9"/><circle cx="579.7" cy="400.9" r="2.9"/><circle cx="566.8" cy="406.8" r="2.9"/><circle cx="591.1" cy="390.7" r="2.9"/><circle cx="574.2" cy="372.2" r="2.9"/><circle cx="642.9" cy="330.6" r="2.9"/><circle cx="631.0" cy="327.4" r="2.9"/><circle cx="589.1" cy="373.9" r="2.9"/><circle cx="641.7" cy="329.1" r="2.9"/><circle cx="644.4" cy="340.1" r="2.9"/><circle cx="548.5" cy="409.4" r="2.9"/><circle cx="561.5" cy="396.5" r="2.9"/><circle cx="556.0" cy="384.8" r="2.9"/><circle cx="630.4" cy="328.8" r="2.9"/><circle cx="622.2" cy="333.8" r="2.9"/><circle cx="636.7" cy="329.3" r="2.9"/><circle cx="613.6" cy="351.0" r="2.9"/><circle cx="586.7" cy="362.5" r="2.9"/><circle cx="595.4" cy="361.1" r="2.9"/><circle cx="595.0" cy="386.1" r="2.9"/><circle cx="559.8" cy="387.7" r="2.9"/><circle cx="615.6" cy="346.9" r="2.9"/><circle cx="577.7" cy="391.7" r="2.9"/><circle cx="611.1" cy="355.6" r="2.9"/><circle cx="574.2" cy="383.6" r="2.9"/><circle cx="567.1" cy="398.0" r="2.9"/><circle cx="618.6" cy="361.7" r="2.9"/><circle cx="638.6" cy="338.4" r="2.9"/><circle cx="549.7" cy="424.8" r="2.9"/><circle cx="545.9" cy="381.8" r="2.9"/><circle cx="556.0" cy="396.3" r="2.9"/><circle cx="578.0" cy="380.8" r="2.9"/><circle cx="635.9" cy="328.5" r="2.9"/><circle cx="596.0" cy="394.5" r="2.9"/><circle cx="624.1" cy="338.9" r="2.9"/><circle cx="593.7" cy="365.1" r="2.9"/><circle cx="575.9" cy="406.1" r="2.9"/><circle cx="636.1" cy="339.3" r="2.9"/><circle cx="574.9" cy="373.3" r="2.9"/><circle cx="628.1" cy="338.9" r="2.9"/><circle cx="645.5" cy="331.4" r="2.9"/><circle cx="489.4" cy="409.8" r="2.9"/><circle cx="511.8" cy="377.9" r="2.9"/><circle cx="612.0" cy="353.4" r="2.9"/><circle cx="642.2" cy="335.5" r="2.9"/><circle cx="581.1" cy="372.6" r="2.9"/><circle cx="581.5" cy="379.4" r="2.9"/><circle cx="554.1" cy="406.4" r="2.9"/><circle cx="598.2" cy="364.3" r="2.9"/><circle cx="529.2" cy="399.0" r="2.9"/><circle cx="597.0" cy="375.3" r="2.9"/><circle cx="591.6" cy="388.2" r="2.9"/><circle cx="529.8" cy="389.0" r="2.9"/><circle cx="574.3" cy="376.9" r="2.9"/><circle cx="582.4" cy="368.5" r="2.9"/><circle cx="628.0" cy="339.5" r="2.9"/><circle cx="562.8" cy="359.4" r="2.9"/><circle cx="544.2" cy="399.3" r="2.9"/><circle cx="565.7" cy="382.3" r="2.9"/><circle cx="607.8" cy="347.7" r="2.9"/><circle cx="641.9" cy="328.3" r="2.9"/><circle cx="528.2" cy="412.6" r="2.9"/><circle cx="627.5" cy="337.8" r="2.9"/><circle cx="585.9" cy="414.8" r="2.9"/><circle cx="556.7" cy="360.7" r="2.9"/><circle cx="591.9" cy="365.4" r="2.9"/><circle cx="567.7" cy="396.3" r="2.9"/><circle cx="642.1" cy="333.5" r="2.9"/><circle cx="546.7" cy="392.4" r="2.9"/><circle cx="642.7" cy="334.2" r="2.9"/><circle cx="497.6" cy="429.0" r="2.9"/><circle cx="520.5" cy="398.1" r="2.9"/><circle cx="531.8" cy="414.5" r="2.9"/><circle cx="571.6" cy="363.5" r="2.9"/><circle cx="618.4" cy="349.4" r="2.9"/><circle cx="581.6" cy="394.0" r="2.9"/><circle cx="607.2" cy="343.9" r="2.9"/><circle cx="581.7" cy="391.5" r="2.9"/><circle cx="637.9" cy="336.4" r="2.9"/><circle cx="588.1" cy="362.9" r="2.9"/><circle cx="596.2" cy="356.4" r="2.9"/><circle cx="615.3" cy="345.7" r="2.9"/><circle cx="640.5" cy="328.1" r="2.9"/><circle cx="570.7" cy="371.0" r="2.9"/><circle cx="608.9" cy="355.8" r="2.9"/><circle cx="557.1" cy="390.0" r="2.9"/><circle cx="615.9" cy="347.1" r="2.9"/><circle cx="620.3" cy="346.1" r="2.9"/><circle cx="632.1" cy="327.9" r="2.9"/><circle cx="569.3" cy="372.3" r="2.9"/><circle cx="561.7" cy="383.0" r="2.9"/><circle cx="643.7" cy="333.8" r="2.9"/><circle cx="566.1" cy="376.1" r="2.9"/><circle cx="579.2" cy="363.7" r="2.9"/><circle cx="632.6" cy="334.7" r="2.9"/><circle cx="579.0" cy="392.9" r="2.9"/><circle cx="557.0" cy="404.5" r="2.9"/><circle cx="576.7" cy="387.8" r="2.9"/><circle cx="640.1" cy="335.8" r="2.9"/><circle cx="639.4" cy="345.1" r="2.9"/><circle cx="645.0" cy="327.0" r="2.9"/><circle cx="598.6" cy="359.0" r="2.9"/><circle cx="594.0" cy="389.1" r="2.9"/><circle cx="616.8" cy="350.3" r="2.9"/><circle cx="587.8" cy="365.0" r="2.9"/><circle cx="568.5" cy="410.1" r="2.9"/><circle cx="614.1" cy="351.4" r="2.9"/><circle cx="596.5" cy="367.6" r="2.9"/><circle cx="559.2" cy="399.0" r="2.9"/><circle cx="626.3" cy="328.8" r="2.9"/><circle cx="575.5" cy="412.7" r="2.9"/><circle cx="639.0" cy="333.2" r="2.9"/><circle cx="559.3" cy="395.7" r="2.9"/><circle cx="588.2" cy="360.1" r="2.9"/><circle cx="562.3" cy="409.5" r="2.9"/><circle cx="581.0" cy="412.5" r="2.9"/><circle cx="595.5" cy="367.2" r="2.9"/><circle cx="545.9" cy="402.4" r="2.9"/><circle cx="537.9" cy="400.8" r="2.9"/><circle cx="534.3" cy="365.6" r="2.9"/><circle cx="645.1" cy="326.8" r="2.9"/><circle cx="608.5" cy="349.3" r="2.9"/><circle cx="569.7" cy="393.3" r="2.9"/><circle cx="542.9" cy="396.7" r="2.9"/><circle cx="606.1" cy="346.1" r="2.9"/><circle cx="613.4" cy="346.9" r="2.9"/><circle cx="637.4" cy="329.9" r="2.9"/><circle cx="561.5" cy="412.3" r="2.9"/><circle cx="565.3" cy="367.2" r="2.9"/><circle cx="579.1" cy="392.3" r="2.9"/><circle cx="575.0" cy="371.9" r="2.9"/><circle cx="568.2" cy="378.1" r="2.9"/><circle cx="545.8" cy="426.4" r="2.9"/><circle cx="638.8" cy="332.1" r="2.9"/><circle cx="553.1" cy="397.1" r="2.9"/><circle cx="610.9" cy="351.8" r="2.9"/><circle cx="636.3" cy="332.6" r="2.9"/><circle cx="631.5" cy="335.5" r="2.9"/><circle cx="577.3" cy="371.1" r="2.9"/><circle cx="566.5" cy="378.5" r="2.9"/><circle cx="637.7" cy="328.1" r="2.9"/><circle cx="571.8" cy="420.6" r="2.9"/><circle cx="619.8" cy="328.7" r="2.9"/><circle cx="585.5" cy="384.8" r="2.9"/><circle cx="568.9" cy="414.3" r="2.9"/><circle cx="538.4" cy="404.2" r="2.9"/><circle cx="526.5" cy="429.4" r="2.9"/><circle cx="511.8" cy="388.9" r="2.9"/><circle cx="572.1" cy="389.0" r="2.9"/><circle cx="637.5" cy="340.0" r="2.9"/><circle cx="554.2" cy="402.1" r="2.9"/><circle cx="593.5" cy="354.1" r="2.9"/><circle cx="604.1" cy="356.5" r="2.9"/><circle cx="548.1" cy="375.2" r="2.9"/><circle cx="568.9" cy="386.4" r="2.9"/><circle cx="560.7" cy="397.7" r="2.9"/><circle cx="581.5" cy="361.0" r="2.9"/><circle cx="582.1" cy="414.2" r="2.9"/><circle cx="530.2" cy="414.4" r="2.9"/><circle cx="625.1" cy="342.9" r="2.9"/><circle cx="554.3" cy="402.4" r="2.9"/><circle cx="506.6" cy="411.4" r="2.9"/><circle cx="586.1" cy="362.3" r="2.9"/><circle cx="521.2" cy="412.6" r="2.9"/><circle cx="536.7" cy="424.7" r="2.9"/><circle cx="627.6" cy="329.1" r="2.9"/><circle cx="573.8" cy="420.4" r="2.9"/><circle cx="521.0" cy="392.2" r="2.9"/><circle cx="623.7" cy="331.4" r="2.9"/><circle cx="599.2" cy="356.9" r="2.9"/><circle cx="593.3" cy="365.7" r="2.9"/><circle cx="567.1" cy="403.4" r="2.9"/><circle cx="568.7" cy="413.6" r="2.9"/><circle cx="569.6" cy="414.4" r="2.9"/><circle cx="601.0" cy="389.5" r="2.9"/><circle cx="641.9" cy="334.5" r="2.9"/><circle cx="562.6" cy="386.2" r="2.9"/><circle cx="552.6" cy="387.7" r="2.9"/><circle cx="560.7" cy="404.4" r="2.9"/><circle cx="546.3" cy="404.2" r="2.9"/><circle cx="564.1" cy="382.5" r="2.9"/><circle cx="573.4" cy="372.0" r="2.9"/><circle cx="638.5" cy="326.7" r="2.9"/><circle cx="576.6" cy="377.0" r="2.9"/><circle cx="643.3" cy="329.7" r="2.9"/><circle cx="555.8" cy="413.9" r="2.9"/><circle cx="564.0" cy="415.0" r="2.9"/><circle cx="592.2" cy="353.3" r="2.9"/><circle cx="635.2" cy="345.3" r="2.9"/><circle cx="562.3" cy="389.7" r="2.9"/><circle cx="604.1" cy="358.3" r="2.9"/><circle cx="588.6" cy="383.6" r="2.9"/><circle cx="525.2" cy="417.6" r="2.9"/><circle cx="547.2" cy="386.7" r="2.9"/><circle cx="522.0" cy="416.6" r="2.9"/><circle cx="623.5" cy="331.7" r="2.9"/><circle cx="634.0" cy="342.1" r="2.9"/><circle cx="629.1" cy="333.9" r="2.9"/><circle cx="525.2" cy="416.9" r="2.9"/><circle cx="599.3" cy="372.2" r="2.9"/><circle cx="558.9" cy="388.1" r="2.9"/><circle cx="539.4" cy="427.4" r="2.9"/><circle cx="626.2" cy="340.9" r="2.9"/><circle cx="544.8" cy="393.2" r="2.9"/><circle cx="619.9" cy="325.6" r="2.9"/><circle cx="639.7" cy="335.4" r="2.9"/><circle cx="531.7" cy="390.1" r="2.9"/><circle cx="599.5" cy="363.5" r="2.9"/><circle cx="537.1" cy="404.9" r="2.9"/><circle cx="625.0" cy="341.3" r="2.9"/><circle cx="632.0" cy="341.1" r="2.9"/><circle cx="565.3" cy="404.5" r="2.9"/><circle cx="647.2" cy="340.4" r="2.9"/><circle cx="617.2" cy="344.8" r="2.9"/><circle cx="544.9" cy="383.0" r="2.9"/><circle cx="571.3" cy="398.3" r="2.9"/><circle cx="576.0" cy="396.7" r="2.9"/><circle cx="576.4" cy="408.7" r="2.9"/><circle cx="574.1" cy="389.1" r="2.9"/><circle cx="591.7" cy="371.5" r="2.9"/><circle cx="561.9" cy="403.6" r="2.9"/><circle cx="595.8" cy="374.7" r="2.9"/><circle cx="617.8" cy="344.8" r="2.9"/><circle cx="579.6" cy="391.4" r="2.9"/><circle cx="531.5" cy="416.9" r="2.9"/><circle cx="620.4" cy="338.9" r="2.9"/><circle cx="588.2" cy="395.2" r="2.9"/><circle cx="575.3" cy="388.8" r="2.9"/><circle cx="583.3" cy="394.1" r="2.9"/><circle cx="528.3" cy="405.4" r="2.9"/><circle cx="599.7" cy="360.7" r="2.9"/><circle cx="620.5" cy="326.0" r="2.9"/><circle cx="605.5" cy="363.8" r="2.9"/><circle cx="559.8" cy="424.0" r="2.9"/><circle cx="593.9" cy="405.2" r="2.9"/><circle cx="594.8" cy="359.2" r="2.9"/><circle cx="596.6" cy="397.9" r="2.9"/><circle cx="565.5" cy="404.4" r="2.9"/><circle cx="644.3" cy="329.9" r="2.9"/><circle cx="610.7" cy="346.4" r="2.9"/><circle cx="561.5" cy="415.5" r="2.9"/><circle cx="564.7" cy="420.2" r="2.9"/><circle cx="557.0" cy="405.2" r="2.9"/><circle cx="596.7" cy="364.0" r="2.9"/><circle cx="611.3" cy="353.3" r="2.9"/><circle cx="574.0" cy="373.5" r="2.9"/><circle cx="536.8" cy="416.8" r="2.9"/><circle cx="582.8" cy="407.9" r="2.9"/><circle cx="600.7" cy="355.0" r="2.9"/><circle cx="627.5" cy="333.5" r="2.9"/><circle cx="616.2" cy="354.5" r="2.9"/><circle cx="642.4" cy="327.8" r="2.9"/><circle cx="626.7" cy="349.9" r="2.9"/><circle cx="561.7" cy="417.5" r="2.9"/><circle cx="555.4" cy="417.1" r="2.9"/><circle cx="567.8" cy="391.2" r="2.9"/><circle cx="628.4" cy="332.2" r="2.9"/><circle cx="625.7" cy="344.1" r="2.9"/><circle cx="640.8" cy="333.4" r="2.9"/><circle cx="563.3" cy="383.4" r="2.9"/><circle cx="567.6" cy="389.1" r="2.9"/><circle cx="569.3" cy="410.5" r="2.9"/><circle cx="555.4" cy="398.3" r="2.9"/><circle cx="587.3" cy="402.5" r="2.9"/><circle cx="564.6" cy="371.4" r="2.9"/><circle cx="591.7" cy="369.2" r="2.9"/><circle cx="568.4" cy="387.2" r="2.9"/><circle cx="575.2" cy="405.2" r="2.9"/><circle cx="630.9" cy="348.0" r="2.9"/><circle cx="637.7" cy="337.1" r="2.9"/><circle cx="610.6" cy="351.7" r="2.9"/><circle cx="575.0" cy="383.8" r="2.9"/><circle cx="562.9" cy="401.1" r="2.9"/><circle cx="591.3" cy="345.1" r="2.9"/><circle cx="560.6" cy="410.8" r="2.9"/><circle cx="588.7" cy="364.9" r="2.9"/><circle cx="603.3" cy="362.0" r="2.9"/><circle cx="616.2" cy="343.7" r="2.9"/><circle cx="590.4" cy="367.4" r="2.9"/><circle cx="635.1" cy="338.4" r="2.9"/><circle cx="566.4" cy="408.1" r="2.9"/><circle cx="646.3" cy="330.6" r="2.9"/><circle cx="568.3" cy="382.6" r="2.9"/><circle cx="595.0" cy="400.1" r="2.9"/><circle cx="622.5" cy="333.5" r="2.9"/><circle cx="577.8" cy="363.7" r="2.9"/><circle cx="638.9" cy="334.2" r="2.9"/><circle cx="605.6" cy="407.1" r="2.9"/><circle cx="586.9" cy="366.5" r="2.9"/><circle cx="571.6" cy="376.8" r="2.9"/><circle cx="561.1" cy="428.5" r="2.9"/><circle cx="573.4" cy="381.9" r="2.9"/><circle cx="641.4" cy="330.3" r="2.9"/><circle cx="631.3" cy="326.8" r="2.9"/><circle cx="613.2" cy="348.1" r="2.9"/><circle cx="572.3" cy="384.9" r="2.9"/><circle cx="575.6" cy="412.5" r="2.9"/><circle cx="600.7" cy="356.2" r="2.9"/><circle cx="552.8" cy="386.8" r="2.9"/><circle cx="549.2" cy="380.5" r="2.9"/><circle cx="623.3" cy="327.2" r="2.9"/></g>
<path d="M489 439.4L646 335.6" stroke="#000" stroke-width="3.7" fill="none"/>
<text x="564.84" y="320" class="mt" text-anchor="middle">m = 0.6593</text>
<text x="368.2" y="238.2" class="pl">h</text>
</g>
<g>
<rect x="712" y="247.8" width="314.1" height="30.5" fill="#D0D0D0"/>
<rect x="712" y="278.3" width="314.1" height="194.2" fill="#E6E6E6"/>
<text x="869" y="269.4" class="st" text-anchor="middle">DC4</text>
<path d="M712 279.57H1026.1M712 320.52H1026.1M712 361.48H1026.1M712 402.43H1026.1M712 443.38H1026.1M726.62 278.3V472.5M808.18 278.3V472.5M889.74 278.3V472.5M971.3 278.3V472.5" stroke="#fff" stroke-width="0.9" fill="none"/>
<path d="M712 300.05H1026.1M712 341H1026.1M712 381.95H1026.1M712 422.9H1026.1M712 463.85H1026.1M767.4 278.3V472.5M848.96 278.3V472.5M930.52 278.3V472.5M1012.08 278.3V472.5" stroke="#fff" stroke-width="1.6" fill="none"/>
<path d="M711.1 300.05H712M711.1 341H712M711.1 381.95H712M711.1 422.9H712M711.1 463.85H712" stroke="#444" stroke-width="1.1" fill="none"/>
<text x="768" y="498.2" class="lg" text-anchor="middle">10<tspan class="sp" dx="0.6" dy="-8.1">-6</tspan></text>
<text x="849.56" y="498.2" class="lg" text-anchor="middle">10<tspan class="sp" dx="0.6" dy="-8.1">-4</tspan></text>
<text x="931.12" y="498.2" class="lg" text-anchor="middle">10<tspan class="sp" dx="0.6" dy="-8.1">-2</tspan></text>
<text x="1012.68" y="498.2" class="lg" text-anchor="middle">10<tspan class="sp" dx="0.6" dy="-8.1">0</tspan></text>
<path d="M767.4 472.5V477.5M848.96 472.5V477.5M930.52 472.5V477.5M1012.08 472.5V477.5" stroke="#222" stroke-width="2.1" fill="none"/>
<text x="871.8" y="522.8" class="at">μ<tspan class="sb" dy="4.6">d</tspan></text>
<g fill="#F564E3" fill-opacity="0.34"><circle cx="913.6" cy="371.8" r="2.9"/><circle cx="933.0" cy="365.9" r="2.9"/><circle cx="961.1" cy="337.2" r="2.9"/><circle cx="880.0" cy="410.6" r="2.9"/><circle cx="958.1" cy="327.4" r="2.9"/><circle cx="871.8" cy="390.4" r="2.9"/><circle cx="953.8" cy="339.5" r="2.9"/><circle cx="887.9" cy="411.3" r="2.9"/><circle cx="878.0" cy="408.8" r="2.9"/><circle cx="938.7" cy="352.0" r="2.9"/><circle cx="955.2" cy="327.1" r="2.9"/><circle cx="886.7" cy="397.8" r="2.9"/><circle cx="889.4" cy="398.9" r="2.9"/><circle cx="899.5" cy="381.8" r="2.9"/><circle cx="969.7" cy="349.9" r="2.9"/><circle cx="930.9" cy="373.0" r="2.9"/><circle cx="958.2" cy="330.7" r="2.9"/><circle cx="961.4" cy="338.4" r="2.9"/><circle cx="898.5" cy="402.5" r="2.9"/><circle cx="824.5" cy="413.9" r="2.9"/><circle cx="879.7" cy="404.1" r="2.9"/><circle cx="909.7" cy="368.4" r="2.9"/><circle cx="969.1" cy="337.4" r="2.9"/><circle cx="870.0" cy="430.8" r="2.9"/><circle cx="913.5" cy="399.9" r="2.9"/><circle cx="969.1" cy="335.8" r="2.9"/><circle cx="911.4" cy="397.2" r="2.9"/><circle cx="907.1" cy="379.2" r="2.9"/><circle cx="910.0" cy="384.6" r="2.9"/><circle cx="916.8" cy="375.8" r="2.9"/><circle cx="921.5" cy="371.3" r="2.9"/><circle cx="901.7" cy="422.2" r="2.9"/><circle cx="969.6" cy="344.6" r="2.9"/><circle cx="902.5" cy="392.6" r="2.9"/><circle cx="897.5" cy="394.6" r="2.9"/><circle cx="931.0" cy="374.9" r="2.9"/><circle cx="975.7" cy="328.6" r="2.9"/><circle cx="897.5" cy="372.6" r="2.9"/><circle cx="964.1" cy="336.4" r="2.9"/><circle cx="901.7" cy="404.4" r="2.9"/><circle cx="963.7" cy="342.4" r="2.9"/><circle cx="918.9" cy="366.9" r="2.9"/><circle cx="916.9" cy="399.1" r="2.9"/><circle cx="941.5" cy="348.0" r="2.9"/><circle cx="961.2" cy="338.9" r="2.9"/><circle cx="852.2" cy="421.6" r="2.9"/><circle cx="967.1" cy="336.8" r="2.9"/><circle cx="876.0" cy="398.5" r="2.9"/><circle cx="962.3" cy="329.5" r="2.9"/><circle cx="960.2" cy="333.9" r="2.9"/><circle cx="892.8" cy="394.4" r="2.9"/><circle cx="885.3" cy="398.5" r="2.9"/><circle cx="861.4" cy="409.6" r="2.9"/><circle cx="966.2" cy="338.8" r="2.9"/><circle cx="883.5" cy="397.7" r="2.9"/><circle cx="957.1" cy="345.1" r="2.9"/><circle cx="894.1" cy="419.1" r="2.9"/><circle cx="926.3" cy="398.9" r="2.9"/><circle cx="967.1" cy="328.4" r="2.9"/><circle cx="951.6" cy="346.2" r="2.9"/><circle cx="889.8" cy="387.6" r="2.9"/><circle cx="901.2" cy="375.8" r="2.9"/><circle cx="920.8" cy="376.0" r="2.9"/><circle cx="970.8" cy="340.3" r="2.9"/><circle cx="922.2" cy="413.5" r="2.9"/><circle cx="906.8" cy="403.2" r="2.9"/><circle cx="895.1" cy="396.4" r="2.9"/><circle cx="858.7" cy="430.4" r="2.9"/><circle cx="858.7" cy="407.5" r="2.9"/><circle cx="887.6" cy="388.5" r="2.9"/><circle cx="893.7" cy="394.1" r="2.9"/><circle cx="908.8" cy="386.8" r="2.9"/><circle cx="942.7" cy="360.2" r="2.9"/><circle cx="930.4" cy="363.7" r="2.9"/><circle cx="836.7" cy="390.1" r="2.9"/><circle cx="934.0" cy="360.4" r="2.9"/><circle cx="875.5" cy="421.5" r="2.9"/><circle cx="907.6" cy="402.4" r="2.9"/><circle cx="879.4" cy="383.5" r="2.9"/><circle cx="873.1" cy="414.8" r="2.9"/><circle cx="896.6" cy="405.8" r="2.9"/><circle cx="938.6" cy="358.1" r="2.9"/><circle cx="965.7" cy="334.0" r="2.9"/><circle cx="913.2" cy="371.6" r="2.9"/><circle cx="952.0" cy="334.1" r="2.9"/><circle cx="951.4" cy="333.6" r="2.9"/><circle cx="960.2" cy="346.9" r="2.9"/><circle cx="926.8" cy="413.3" r="2.9"/><circle cx="875.5" cy="388.2" r="2.9"/><circle cx="873.9" cy="394.3" r="2.9"/><circle cx="878.6" cy="408.0" r="2.9"/><circle cx="884.8" cy="420.6" r="2.9"/><circle cx="944.4" cy="348.1" r="2.9"/><circle cx="973.7" cy="329.6" r="2.9"/><circle cx="876.6" cy="395.5" r="2.9"/><circle cx="885.3" cy="383.4" r="2.9"/><circle cx="963.2" cy="338.5" r="2.9"/><circle cx="927.6" cy="355.2" r="2.9"/><circle cx="883.6" cy="392.1" r="2.9"/><circle cx="904.1" cy="383.5" r="2.9"/><circle cx="954.1" cy="346.3" r="2.9"/><circle cx="953.5" cy="352.7" r="2.9"/><circle cx="902.3" cy="402.6" r="2.9"/><circle cx="882.6" cy="407.3" r="2.9"/><circle cx="960.2" cy="343.4" r="2.9"/><circle cx="969.9" cy="327.5" r="2.9"/><circle cx="891.5" cy="383.7" r="2.9"/><circle cx="900.4" cy="412.5" r="2.9"/><circle cx="974.5" cy="328.7" r="2.9"/><circle cx="868.3" cy="405.7" r="2.9"/><circle cx="892.8" cy="420.4" r="2.9"/><circle cx="911.9" cy="373.1" r="2.9"/><circle cx="872.3" cy="426.6" r="2.9"/><circle cx="895.2" cy="406.9" r="2.9"/><circle cx="900.6" cy="390.7" r="2.9"/><circle cx="887.3" cy="394.7" r="2.9"/><circle cx="941.7" cy="350.0" r="2.9"/><circle cx="954.9" cy="347.1" r="2.9"/><circle cx="912.3" cy="375.0" r="2.9"/><circle cx="840.7" cy="415.3" r="2.9"/><circle cx="944.7" cy="352.9" r="2.9"/><circle cx="882.0" cy="405.4" r="2.9"/><circle cx="928.0" cy="374.6" r="2.9"/><circle cx="887.1" cy="399.8" r="2.9"/><circle cx="865.3" cy="419.4" r="2.9"/><circle cx="860.9" cy="395.8" r="2.9"/><circle cx="957.2" cy="335.4" r="2.9"/><circle cx="901.6" cy="407.7" r="2.9"/><circle cx="875.9" cy="423.2" r="2.9"/><circle cx="877.0" cy="418.2" r="2.9"/><circle cx="964.8" cy="349.9" r="2.9"/><circle cx="926.7" cy="367.8" r="2.9"/><circle cx="834.7" cy="400.4" r="2.9"/><circle cx="968.5" cy="329.6" r="2.9"/><circle cx="945.7" cy="351.6" r="2.9"/><circle cx="936.4" cy="358.2" r="2.9"/><circle cx="932.0" cy="358.8" r="2.9"/><circle cx="970.8" cy="334.6" r="2.9"/><circle cx="884.9" cy="404.9" r="2.9"/><circle cx="882.9" cy="407.5" r="2.9"/><circle cx="918.3" cy="336.9" r="2.9"/><circle cx="924.0" cy="366.4" r="2.9"/><circle cx="897.7" cy="382.3" r="2.9"/><circle cx="888.2" cy="409.9" r="2.9"/><circle cx="961.9" cy="329.4" r="2.9"/><circle cx="955.7" cy="348.8" r="2.9"/><circle cx="887.8" cy="385.7" r="2.9"/><circle cx="894.4" cy="394.4" r="2.9"/><circle cx="969.9" cy="340.8" r="2.9"/><circle cx="963.1" cy="346.1" r="2.9"/><circle cx="922.2" cy="370.7" r="2.9"/><circle cx="934.7" cy="360.1" r="2.9"/><circle cx="960.1" cy="351.3" r="2.9"/><circle cx="895.8" cy="416.7" r="2.9"/><circle cx="906.7" cy="394.7" r="2.9"/><circle cx="921.7" cy="393.5" r="2.9"/><circle cx="860.0" cy="426.2" r="2.9"/><circle cx="972.3" cy="334.9" r="2.9"/><circle cx="969.5" cy="344.8" r="2.9"/><circle cx="905.9" cy="425.0" r="2.9"/><circle cx="930.3" cy="354.5" r="2.9"/><circle cx="947.7" cy="356.3" r="2.9"/><circle cx="883.6" cy="351.2" r="2.9"/><circle cx="967.8" cy="335.4" r="2.9"/><circle cx="836.7" cy="398.8" r="2.9"/><circle cx="942.6" cy="354.0" r="2.9"/><circle cx="949.7" cy="352.6" r="2.9"/><circle cx="899.8" cy="382.9" r="2.9"/><circle cx="970.8" cy="334.5" r="2.9"/><circle cx="919.6" cy="380.9" r="2.9"/><circle cx="924.9" cy="415.9" r="2.9"/><circle cx="877.1" cy="400.2" r="2.9"/><circle cx="896.0" cy="384.3" r="2.9"/><circle cx="955.1" cy="332.0" r="2.9"/><circle cx="937.6" cy="362.4" r="2.9"/><circle cx="893.9" cy="398.5" r="2.9"/><circle cx="879.7" cy="418.7" r="2.9"/><circle cx="969.3" cy="335.4" r="2.9"/><circle cx="973.3" cy="329.5" r="2.9"/><circle cx="915.2" cy="368.8" r="2.9"/><circle cx="966.2" cy="328.6" r="2.9"/><circle cx="960.6" cy="340.0" r="2.9"/><circle cx="861.2" cy="435.1" r="2.9"/><circle cx="889.8" cy="413.9" r="2.9"/><circle cx="843.4" cy="420.5" r="2.9"/><circle cx="958.4" cy="340.4" r="2.9"/><circle cx="907.9" cy="368.4" r="2.9"/><circle cx="970.7" cy="327.1" r="2.9"/><circle cx="822.5" cy="421.7" r="2.9"/><circle cx="934.0" cy="407.2" r="2.9"/><circle cx="905.5" cy="395.5" r="2.9"/><circle cx="860.5" cy="384.9" r="2.9"/><circle cx="963.3" cy="328.4" r="2.9"/><circle cx="926.5" cy="360.6" r="2.9"/><circle cx="894.9" cy="381.2" r="2.9"/><circle cx="906.2" cy="403.0" r="2.9"/><circle cx="877.2" cy="426.6" r="2.9"/><circle cx="951.0" cy="347.6" r="2.9"/><circle cx="972.4" cy="328.7" r="2.9"/><circle cx="895.4" cy="379.2" r="2.9"/><circle cx="905.8" cy="374.4" r="2.9"/><circle cx="914.6" cy="383.7" r="2.9"/><circle cx="968.7" cy="335.0" r="2.9"/><circle cx="919.4" cy="356.1" r="2.9"/><circle cx="861.9" cy="406.1" r="2.9"/><circle cx="885.8" cy="413.7" r="2.9"/><circle cx="892.0" cy="394.5" r="2.9"/><circle cx="847.5" cy="407.9" r="2.9"/><circle cx="927.4" cy="372.4" r="2.9"/><circle cx="924.7" cy="380.8" r="2.9"/><circle cx="937.2" cy="357.2" r="2.9"/><circle cx="909.5" cy="370.2" r="2.9"/><circle cx="904.1" cy="372.0" r="2.9"/><circle cx="958.5" cy="341.3" r="2.9"/><circle cx="964.3" cy="337.6" r="2.9"/><circle cx="890.2" cy="401.2" r="2.9"/><circle cx="918.9" cy="393.3" r="2.9"/><circle cx="883.9" cy="407.9" r="2.9"/><circle cx="902.4" cy="406.4" r="2.9"/><circle cx="904.8" cy="371.3" r="2.9"/><circle cx="896.7" cy="400.7" r="2.9"/><circle cx="894.2" cy="419.9" r="2.9"/><circle cx="870.0" cy="389.8" r="2.9"/><circle cx="953.2" cy="333.8" r="2.9"/><circle cx="911.1" cy="366.8" r="2.9"/><circle cx="947.3" cy="344.7" r="2.9"/><circle cx="895.6" cy="398.2" r="2.9"/><circle cx="846.9" cy="427.9" r="2.9"/><circle cx="930.1" cy="364.7" r="2.9"/><circle cx="880.5" cy="413.1" r="2.9"/><circle cx="870.5" cy="399.8" r="2.9"/><circle cx="900.5" cy="406.9" r="2.9"/><circle cx="908.1" cy="381.3" r="2.9"/><circle cx="855.2" cy="409.8" r="2.9"/><circle cx="864.9" cy="402.6" r="2.9"/><circle cx="917.7" cy="400.4" r="2.9"/><circle cx="976.5" cy="328.3" r="2.9"/><circle cx="878.0" cy="403.3" r="2.9"/><circle cx="973.8" cy="335.0" r="2.9"/><circle cx="924.2" cy="394.3" r="2.9"/><circle cx="917.0" cy="419.4" r="2.9"/><circle cx="926.8" cy="364.1" r="2.9"/><circle cx="939.8" cy="393.9" r="2.9"/><circle cx="975.6" cy="331.7" r="2.9"/><circle cx="902.7" cy="384.6" r="2.9"/><circle cx="895.4" cy="401.9" r="2.9"/><circle cx="963.6" cy="329.3" r="2.9"/><circle cx="904.7" cy="403.1" r="2.9"/><circle cx="899.4" cy="373.6" r="2.9"/><circle cx="966.8" cy="330.6" r="2.9"/><circle cx="936.0" cy="358.1" r="2.9"/><circle cx="930.8" cy="360.2" r="2.9"/><circle cx="944.9" cy="359.4" r="2.9"/><circle cx="891.9" cy="386.5" r="2.9"/><circle cx="896.7" cy="412.9" r="2.9"/><circle cx="880.6" cy="407.0" r="2.9"/><circle cx="897.1" cy="377.7" r="2.9"/><circle cx="938.3" cy="356.3" r="2.9"/><circle cx="892.8" cy="410.7" r="2.9"/><circle cx="915.0" cy="368.8" r="2.9"/><circle cx="881.2" cy="436.2" r="2.9"/><circle cx="890.6" cy="374.0" r="2.9"/><circle cx="976.1" cy="330.9" r="2.9"/><circle cx="958.1" cy="333.3" r="2.9"/><circle cx="910.4" cy="400.7" r="2.9"/><circle cx="892.1" cy="393.0" r="2.9"/><circle cx="923.2" cy="360.3" r="2.9"/><circle cx="931.8" cy="353.7" r="2.9"/><circle cx="832.6" cy="402.4" r="2.9"/><circle cx="964.4" cy="341.1" r="2.9"/><circle cx="948.4" cy="348.5" r="2.9"/><circle cx="926.5" cy="356.7" r="2.9"/><circle cx="940.7" cy="357.4" r="2.9"/><circle cx="911.0" cy="369.9" r="2.9"/><circle cx="915.2" cy="363.7" r="2.9"/><circle cx="927.6" cy="349.4" r="2.9"/><circle cx="872.5" cy="410.0" r="2.9"/><circle cx="903.3" cy="386.7" r="2.9"/><circle cx="922.0" cy="364.2" r="2.9"/><circle cx="967.8" cy="344.4" r="2.9"/><circle cx="900.5" cy="393.6" r="2.9"/><circle cx="874.9" cy="415.7" r="2.9"/><circle cx="867.6" cy="413.8" r="2.9"/><circle cx="892.8" cy="404.7" r="2.9"/><circle cx="929.2" cy="359.2" r="2.9"/><circle cx="947.6" cy="345.9" r="2.9"/><circle cx="913.3" cy="379.9" r="2.9"/><circle cx="899.3" cy="409.4" r="2.9"/><circle cx="894.0" cy="390.3" r="2.9"/><circle cx="971.7" cy="333.0" r="2.9"/><circle cx="911.8" cy="364.8" r="2.9"/><circle cx="898.2" cy="375.6" r="2.9"/><circle cx="943.1" cy="355.1" r="2.9"/><circle cx="962.7" cy="327.7" r="2.9"/><circle cx="958.3" cy="347.6" r="2.9"/><circle cx="935.8" cy="361.1" r="2.9"/><circle cx="925.1" cy="384.7" r="2.9"/><circle cx="884.3" cy="425.5" r="2.9"/><circle cx="955.6" cy="347.8" r="2.9"/><circle cx="953.4" cy="327.0" r="2.9"/><circle cx="914.5" cy="408.3" r="2.9"/><circle cx="914.7" cy="379.6" r="2.9"/><circle cx="965.9" cy="339.9" r="2.9"/><circle cx="919.0" cy="404.8" r="2.9"/><circle cx="889.3" cy="382.9" r="2.9"/><circle cx="852.4" cy="410.9" r="2.9"/><circle cx="910.4" cy="366.9" r="2.9"/><circle cx="906.8" cy="372.9" r="2.9"/><circle cx="892.3" cy="380.2" r="2.9"/><circle cx="892.6" cy="400.4" r="2.9"/><circle cx="941.0" cy="358.9" r="2.9"/><circle cx="922.5" cy="363.4" r="2.9"/><circle cx="906.9" cy="378.3" r="2.9"/><circle cx="838.6" cy="405.6" r="2.9"/><circle cx="951.9" cy="350.7" r="2.9"/><circle cx="930.4" cy="353.0" r="2.9"/><circle cx="881.9" cy="405.0" r="2.9"/><circle cx="883.3" cy="406.8" r="2.9"/><circle cx="888.6" cy="404.3" r="2.9"/><circle cx="814.3" cy="406.5" r="2.9"/><circle cx="968.2" cy="331.9" r="2.9"/><circle cx="891.8" cy="411.5" r="2.9"/><circle cx="866.4" cy="397.9" r="2.9"/><circle cx="895.9" cy="408.2" r="2.9"/><circle cx="919.1" cy="399.1" r="2.9"/><circle cx="938.8" cy="355.5" r="2.9"/><circle cx="920.3" cy="417.7" r="2.9"/><circle cx="965.1" cy="338.4" r="2.9"/><circle cx="878.2" cy="415.6" r="2.9"/><circle cx="952.8" cy="352.1" r="2.9"/><circle cx="897.6" cy="392.6" r="2.9"/><circle cx="918.2" cy="374.2" r="2.9"/><circle cx="888.0" cy="409.6" r="2.9"/><circle cx="915.1" cy="373.6" r="2.9"/><circle cx="940.0" cy="357.0" r="2.9"/><circle cx="887.4" cy="405.6" r="2.9"/><circle cx="884.4" cy="396.5" r="2.9"/><circle cx="861.7" cy="427.3" r="2.9"/><circle cx="911.6" cy="396.9" r="2.9"/><circle cx="942.4" cy="354.2" r="2.9"/><circle cx="905.8" cy="370.2" r="2.9"/><circle cx="892.0" cy="408.1" r="2.9"/><circle cx="951.6" cy="349.8" r="2.9"/><circle cx="916.5" cy="353.6" r="2.9"/><circle cx="938.9" cy="347.8" r="2.9"/><circle cx="926.6" cy="360.6" r="2.9"/><circle cx="902.5" cy="417.3" r="2.9"/><circle cx="931.9" cy="363.2" r="2.9"/><circle cx="903.4" cy="384.6" r="2.9"/><circle cx="884.1" cy="398.2" r="2.9"/><circle cx="912.1" cy="381.3" r="2.9"/><circle cx="966.7" cy="341.9" r="2.9"/><circle cx="846.3" cy="430.4" r="2.9"/><circle cx="954.3" cy="333.5" r="2.9"/><circle cx="952.4" cy="351.3" r="2.9"/><circle cx="918.3" cy="349.2" r="2.9"/><circle cx="905.9" cy="425.8" r="2.9"/><circle cx="895.2" cy="425.9" r="2.9"/><circle cx="960.0" cy="340.9" r="2.9"/><circle cx="969.3" cy="342.2" r="2.9"/><circle cx="898.5" cy="427.4" r="2.9"/><circle cx="909.5" cy="401.3" r="2.9"/><circle cx="919.3" cy="364.6" r="2.9"/><circle cx="887.3" cy="405.4" r="2.9"/><circle cx="856.1" cy="405.1" r="2.9"/><circle cx="877.1" cy="429.9" r="2.9"/><circle cx="949.2" cy="346.3" r="2.9"/><circle cx="920.6" cy="374.9" r="2.9"/><circle cx="941.9" cy="352.2" r="2.9"/><circle cx="959.9" cy="350.5" r="2.9"/><circle cx="842.8" cy="423.8" r="2.9"/><circle cx="970.5" cy="340.3" r="2.9"/><circle cx="905.7" cy="419.8" r="2.9"/><circle cx="896.7" cy="385.8" r="2.9"/><circle cx="964.0" cy="336.0" r="2.9"/><circle cx="966.2" cy="328.5" r="2.9"/><circle cx="953.2" cy="337.5" r="2.9"/><circle cx="914.2" cy="389.1" r="2.9"/><circle cx="842.3" cy="415.4" r="2.9"/><circle cx="893.7" cy="396.9" r="2.9"/><circle cx="920.1" cy="390.0" r="2.9"/><circle cx="916.6" cy="371.6" r="2.9"/><circle cx="847.9" cy="409.0" r="2.9"/><circle cx="895.3" cy="390.6" r="2.9"/><circle cx="888.9" cy="386.7" r="2.9"/><circle cx="858.3" cy="416.2" r="2.9"/><circle cx="864.4" cy="429.6" r="2.9"/><circle cx="962.4" cy="343.0" r="2.9"/><circle cx="894.3" cy="392.3" r="2.9"/><circle cx="877.0" cy="419.9" r="2.9"/><circle cx="860.1" cy="409.5" r="2.9"/></g>
<path d="M814 447L975 338.4" stroke="#000" stroke-width="3.7" fill="none"/>
<text x="889.74" y="320" class="mt" text-anchor="middle">m = 0.67361</text>
<text x="703.2" y="237" class="pl">i</text>
</g>
<g>
<rect x="1037" y="247.8" width="314.6" height="30.5" fill="#D0D0D0"/>
<rect x="1037" y="278.3" width="314.6" height="194.2" fill="#E6E6E6"/>
<text x="1194" y="269.4" class="st" text-anchor="middle">DC20</text>
<path d="M1037 279.57H1351.6M1037 320.52H1351.6M1037 361.48H1351.6M1037 402.43H1351.6M1037 443.38H1351.6M1051.62 278.3V472.5M1133.18 278.3V472.5M1214.74 278.3V472.5M1296.3 278.3V472.5" stroke="#fff" stroke-width="0.9" fill="none"/>
<path d="M1037 300.05H1351.6M1037 341H1351.6M1037 381.95H1351.6M1037 422.9H1351.6M1037 463.85H1351.6M1092.4 278.3V472.5M1173.96 278.3V472.5M1255.52 278.3V472.5M1337.08 278.3V472.5" stroke="#fff" stroke-width="1.6" fill="none"/>
<path d="M1036.1 300.05H1037M1036.1 341H1037M1036.1 381.95H1037M1036.1 422.9H1037M1036.1 463.85H1037" stroke="#444" stroke-width="1.1" fill="none"/>
<text x="1093" y="498.2" class="lg" text-anchor="middle">10<tspan class="sp" dx="0.6" dy="-8.1">-6</tspan></text>
<text x="1174.56" y="498.2" class="lg" text-anchor="middle">10<tspan class="sp" dx="0.6" dy="-8.1">-4</tspan></text>
<text x="1256.12" y="498.2" class="lg" text-anchor="middle">10<tspan class="sp" dx="0.6" dy="-8.1">-2</tspan></text>
<text x="1337.68" y="498.2" class="lg" text-anchor="middle">10<tspan class="sp" dx="0.6" dy="-8.1">0</tspan></text>
<path d="M1092.4 472.5V477.5M1173.96 472.5V477.5M1255.52 472.5V477.5M1337.08 472.5V477.5" stroke="#222" stroke-width="2.1" fill="none"/>
<text x="1189.2" y="525.2" class="at">μ<tspan class="sb" dy="4.6">d</tspan></text>
<g fill="#619CFF" fill-opacity="0.34"><circle cx="1261.8" cy="355.1" r="2.9"/><circle cx="1212.1" cy="403.9" r="2.9"/><circle cx="1222.5" cy="384.4" r="2.9"/><circle cx="1264.2" cy="355.9" r="2.9"/><circle cx="1292.5" cy="337.6" r="2.9"/><circle cx="1242.6" cy="416.1" r="2.9"/><circle cx="1231.4" cy="405.9" r="2.9"/><circle cx="1213.4" cy="378.1" r="2.9"/><circle cx="1231.1" cy="376.2" r="2.9"/><circle cx="1294.9" cy="338.6" r="2.9"/><circle cx="1294.8" cy="326.6" r="2.9"/><circle cx="1225.2" cy="402.9" r="2.9"/><circle cx="1296.3" cy="328.5" r="2.9"/><circle cx="1174.5" cy="435.3" r="2.9"/><circle cx="1157.6" cy="401.6" r="2.9"/><circle cx="1220.0" cy="407.4" r="2.9"/><circle cx="1296.9" cy="340.1" r="2.9"/><circle cx="1241.3" cy="372.4" r="2.9"/><circle cx="1209.4" cy="415.6" r="2.9"/><circle cx="1196.2" cy="424.7" r="2.9"/><circle cx="1221.9" cy="385.7" r="2.9"/><circle cx="1263.0" cy="360.2" r="2.9"/><circle cx="1227.1" cy="393.4" r="2.9"/><circle cx="1288.1" cy="354.8" r="2.9"/><circle cx="1214.4" cy="404.5" r="2.9"/><circle cx="1225.8" cy="386.9" r="2.9"/><circle cx="1187.9" cy="395.9" r="2.9"/><circle cx="1293.2" cy="343.5" r="2.9"/><circle cx="1237.8" cy="406.9" r="2.9"/><circle cx="1205.8" cy="418.9" r="2.9"/><circle cx="1206.3" cy="415.3" r="2.9"/><circle cx="1199.2" cy="422.1" r="2.9"/><circle cx="1224.7" cy="392.0" r="2.9"/><circle cx="1225.6" cy="402.8" r="2.9"/><circle cx="1214.2" cy="396.0" r="2.9"/><circle cx="1269.2" cy="358.5" r="2.9"/><circle cx="1241.4" cy="416.5" r="2.9"/><circle cx="1216.3" cy="385.4" r="2.9"/><circle cx="1228.5" cy="385.1" r="2.9"/><circle cx="1248.9" cy="358.4" r="2.9"/><circle cx="1218.6" cy="401.0" r="2.9"/><circle cx="1287.8" cy="345.5" r="2.9"/><circle cx="1223.2" cy="398.5" r="2.9"/><circle cx="1277.4" cy="355.7" r="2.9"/><circle cx="1200.7" cy="420.6" r="2.9"/><circle cx="1251.5" cy="378.2" r="2.9"/><circle cx="1259.1" cy="369.9" r="2.9"/><circle cx="1301.2" cy="332.5" r="2.9"/><circle cx="1197.7" cy="416.1" r="2.9"/><circle cx="1225.7" cy="397.1" r="2.9"/><circle cx="1239.5" cy="393.3" r="2.9"/><circle cx="1298.8" cy="336.5" r="2.9"/><circle cx="1290.0" cy="343.0" r="2.9"/><circle cx="1184.8" cy="399.4" r="2.9"/><circle cx="1254.8" cy="382.1" r="2.9"/><circle cx="1226.4" cy="414.6" r="2.9"/><circle cx="1218.4" cy="406.1" r="2.9"/><circle cx="1212.2" cy="403.5" r="2.9"/><circle cx="1210.5" cy="407.2" r="2.9"/><circle cx="1224.3" cy="402.8" r="2.9"/><circle cx="1292.6" cy="343.9" r="2.9"/><circle cx="1244.6" cy="385.6" r="2.9"/><circle cx="1247.0" cy="390.8" r="2.9"/><circle cx="1276.2" cy="354.4" r="2.9"/><circle cx="1214.9" cy="409.9" r="2.9"/><circle cx="1272.1" cy="357.8" r="2.9"/><circle cx="1244.2" cy="382.6" r="2.9"/><circle cx="1226.7" cy="423.3" r="2.9"/><circle cx="1208.1" cy="439.1" r="2.9"/><circle cx="1166.0" cy="411.3" r="2.9"/><circle cx="1211.8" cy="408.2" r="2.9"/><circle cx="1206.8" cy="406.2" r="2.9"/><circle cx="1289.5" cy="328.7" r="2.9"/><circle cx="1223.6" cy="420.7" r="2.9"/><circle cx="1202.5" cy="403.1" r="2.9"/><circle cx="1230.3" cy="403.7" r="2.9"/><circle cx="1305.4" cy="329.1" r="2.9"/><circle cx="1296.0" cy="346.6" r="2.9"/><circle cx="1202.4" cy="410.1" r="2.9"/><circle cx="1286.9" cy="344.0" r="2.9"/><circle cx="1212.4" cy="413.9" r="2.9"/><circle cx="1292.3" cy="343.8" r="2.9"/><circle cx="1226.5" cy="411.7" r="2.9"/><circle cx="1187.7" cy="415.0" r="2.9"/><circle cx="1283.1" cy="333.2" r="2.9"/><circle cx="1236.0" cy="413.4" r="2.9"/><circle cx="1303.2" cy="332.9" r="2.9"/><circle cx="1267.7" cy="359.3" r="2.9"/><circle cx="1285.1" cy="353.2" r="2.9"/><circle cx="1202.2" cy="408.0" r="2.9"/><circle cx="1227.4" cy="432.6" r="2.9"/><circle cx="1224.9" cy="431.8" r="2.9"/><circle cx="1228.9" cy="381.5" r="2.9"/><circle cx="1204.6" cy="428.9" r="2.9"/><circle cx="1281.9" cy="353.9" r="2.9"/><circle cx="1242.1" cy="371.8" r="2.9"/><circle cx="1236.2" cy="387.8" r="2.9"/><circle cx="1243.7" cy="387.0" r="2.9"/><circle cx="1214.5" cy="401.4" r="2.9"/><circle cx="1224.8" cy="423.1" r="2.9"/><circle cx="1289.9" cy="350.9" r="2.9"/><circle cx="1206.4" cy="429.1" r="2.9"/><circle cx="1278.3" cy="348.1" r="2.9"/><circle cx="1226.6" cy="419.5" r="2.9"/><circle cx="1240.8" cy="384.2" r="2.9"/><circle cx="1204.1" cy="401.6" r="2.9"/><circle cx="1215.7" cy="417.7" r="2.9"/><circle cx="1217.3" cy="422.2" r="2.9"/><circle cx="1201.1" cy="416.5" r="2.9"/><circle cx="1248.3" cy="373.5" r="2.9"/><circle cx="1213.8" cy="405.9" r="2.9"/><circle cx="1221.1" cy="407.5" r="2.9"/><circle cx="1278.6" cy="348.9" r="2.9"/><circle cx="1244.9" cy="406.9" r="2.9"/><circle cx="1197.4" cy="411.5" r="2.9"/><circle cx="1281.3" cy="351.2" r="2.9"/><circle cx="1227.6" cy="387.8" r="2.9"/><circle cx="1273.1" cy="358.6" r="2.9"/><circle cx="1232.6" cy="429.3" r="2.9"/><circle cx="1186.8" cy="429.8" r="2.9"/><circle cx="1243.5" cy="375.6" r="2.9"/><circle cx="1202.5" cy="437.7" r="2.9"/><circle cx="1236.8" cy="378.9" r="2.9"/><circle cx="1256.6" cy="366.6" r="2.9"/><circle cx="1236.1" cy="384.1" r="2.9"/><circle cx="1290.3" cy="349.2" r="2.9"/><circle cx="1220.9" cy="381.7" r="2.9"/><circle cx="1212.7" cy="426.3" r="2.9"/><circle cx="1239.1" cy="380.4" r="2.9"/><circle cx="1244.8" cy="370.1" r="2.9"/><circle cx="1221.5" cy="418.4" r="2.9"/><circle cx="1226.8" cy="392.0" r="2.9"/><circle cx="1250.0" cy="396.5" r="2.9"/><circle cx="1271.8" cy="357.9" r="2.9"/><circle cx="1286.1" cy="350.0" r="2.9"/><circle cx="1206.9" cy="408.0" r="2.9"/><circle cx="1258.6" cy="368.7" r="2.9"/><circle cx="1255.7" cy="359.8" r="2.9"/><circle cx="1307.1" cy="326.9" r="2.9"/><circle cx="1217.6" cy="384.5" r="2.9"/><circle cx="1209.6" cy="417.3" r="2.9"/><circle cx="1194.4" cy="410.1" r="2.9"/><circle cx="1293.6" cy="332.2" r="2.9"/><circle cx="1230.5" cy="407.3" r="2.9"/><circle cx="1216.6" cy="407.4" r="2.9"/><circle cx="1241.1" cy="404.2" r="2.9"/><circle cx="1235.5" cy="383.4" r="2.9"/><circle cx="1229.7" cy="386.6" r="2.9"/><circle cx="1284.0" cy="354.1" r="2.9"/><circle cx="1243.3" cy="388.6" r="2.9"/><circle cx="1253.3" cy="371.1" r="2.9"/><circle cx="1215.1" cy="400.6" r="2.9"/><circle cx="1208.2" cy="395.1" r="2.9"/><circle cx="1211.2" cy="431.2" r="2.9"/><circle cx="1194.0" cy="438.1" r="2.9"/><circle cx="1240.4" cy="376.3" r="2.9"/><circle cx="1228.3" cy="402.8" r="2.9"/><circle cx="1258.5" cy="367.2" r="2.9"/><circle cx="1233.6" cy="382.8" r="2.9"/><circle cx="1305.5" cy="326.9" r="2.9"/><circle cx="1263.9" cy="359.5" r="2.9"/><circle cx="1245.3" cy="365.4" r="2.9"/><circle cx="1240.5" cy="375.8" r="2.9"/><circle cx="1235.6" cy="429.4" r="2.9"/><circle cx="1275.6" cy="356.2" r="2.9"/><circle cx="1281.6" cy="327.1" r="2.9"/><circle cx="1190.7" cy="438.6" r="2.9"/><circle cx="1197.7" cy="435.0" r="2.9"/><circle cx="1211.1" cy="394.7" r="2.9"/><circle cx="1245.7" cy="377.2" r="2.9"/><circle cx="1250.7" cy="376.4" r="2.9"/><circle cx="1200.2" cy="424.8" r="2.9"/><circle cx="1207.2" cy="433.9" r="2.9"/><circle cx="1268.1" cy="365.8" r="2.9"/><circle cx="1277.0" cy="349.9" r="2.9"/><circle cx="1214.5" cy="398.1" r="2.9"/><circle cx="1215.5" cy="404.8" r="2.9"/><circle cx="1221.5" cy="388.1" r="2.9"/><circle cx="1218.8" cy="415.2" r="2.9"/><circle cx="1189.0" cy="415.9" r="2.9"/><circle cx="1201.5" cy="411.5" r="2.9"/><circle cx="1214.2" cy="420.0" r="2.9"/><circle cx="1298.8" cy="340.4" r="2.9"/><circle cx="1304.8" cy="331.2" r="2.9"/><circle cx="1308.8" cy="334.4" r="2.9"/><circle cx="1211.3" cy="421.0" r="2.9"/><circle cx="1227.7" cy="398.9" r="2.9"/><circle cx="1243.5" cy="413.6" r="2.9"/><circle cx="1246.8" cy="402.0" r="2.9"/><circle cx="1217.3" cy="406.1" r="2.9"/><circle cx="1247.4" cy="371.6" r="2.9"/><circle cx="1291.6" cy="339.9" r="2.9"/><circle cx="1209.8" cy="406.1" r="2.9"/><circle cx="1226.1" cy="409.5" r="2.9"/><circle cx="1274.8" cy="353.4" r="2.9"/><circle cx="1202.2" cy="401.7" r="2.9"/><circle cx="1201.1" cy="419.8" r="2.9"/><circle cx="1202.4" cy="421.7" r="2.9"/><circle cx="1206.3" cy="418.2" r="2.9"/><circle cx="1252.4" cy="371.8" r="2.9"/><circle cx="1261.4" cy="358.0" r="2.9"/><circle cx="1239.6" cy="396.5" r="2.9"/><circle cx="1219.0" cy="420.4" r="2.9"/><circle cx="1243.9" cy="375.4" r="2.9"/><circle cx="1272.6" cy="349.1" r="2.9"/><circle cx="1219.0" cy="421.6" r="2.9"/><circle cx="1285.7" cy="343.0" r="2.9"/><circle cx="1234.2" cy="414.3" r="2.9"/><circle cx="1266.0" cy="358.8" r="2.9"/><circle cx="1273.8" cy="360.8" r="2.9"/><circle cx="1226.3" cy="384.1" r="2.9"/><circle cx="1295.3" cy="345.1" r="2.9"/><circle cx="1235.4" cy="382.7" r="2.9"/><circle cx="1295.4" cy="345.9" r="2.9"/><circle cx="1307.9" cy="330.2" r="2.9"/><circle cx="1218.0" cy="411.8" r="2.9"/><circle cx="1199.7" cy="407.5" r="2.9"/><circle cx="1231.6" cy="377.9" r="2.9"/><circle cx="1242.8" cy="386.7" r="2.9"/><circle cx="1272.7" cy="354.9" r="2.9"/><circle cx="1208.8" cy="404.6" r="2.9"/><circle cx="1221.0" cy="395.8" r="2.9"/><circle cx="1197.4" cy="428.6" r="2.9"/><circle cx="1237.3" cy="371.1" r="2.9"/><circle cx="1235.3" cy="388.5" r="2.9"/><circle cx="1233.0" cy="389.2" r="2.9"/><circle cx="1202.1" cy="424.8" r="2.9"/><circle cx="1206.7" cy="405.8" r="2.9"/><circle cx="1281.4" cy="346.3" r="2.9"/><circle cx="1251.0" cy="378.7" r="2.9"/><circle cx="1289.6" cy="350.8" r="2.9"/><circle cx="1285.7" cy="336.8" r="2.9"/><circle cx="1246.7" cy="414.7" r="2.9"/><circle cx="1218.7" cy="424.4" r="2.9"/><circle cx="1209.3" cy="418.5" r="2.9"/><circle cx="1248.9" cy="378.8" r="2.9"/><circle cx="1229.8" cy="371.9" r="2.9"/><circle cx="1223.7" cy="398.3" r="2.9"/><circle cx="1227.7" cy="386.8" r="2.9"/><circle cx="1240.2" cy="401.3" r="2.9"/><circle cx="1203.9" cy="423.1" r="2.9"/><circle cx="1309.0" cy="336.1" r="2.9"/><circle cx="1279.7" cy="353.5" r="2.9"/><circle cx="1233.6" cy="394.8" r="2.9"/><circle cx="1210.3" cy="437.9" r="2.9"/><circle cx="1220.0" cy="405.9" r="2.9"/><circle cx="1215.8" cy="411.2" r="2.9"/><circle cx="1282.1" cy="355.0" r="2.9"/><circle cx="1292.4" cy="345.5" r="2.9"/><circle cx="1287.0" cy="349.8" r="2.9"/><circle cx="1270.2" cy="361.5" r="2.9"/><circle cx="1213.5" cy="412.5" r="2.9"/><circle cx="1191.8" cy="413.2" r="2.9"/><circle cx="1232.2" cy="392.0" r="2.9"/><circle cx="1253.0" cy="369.1" r="2.9"/><circle cx="1281.5" cy="349.9" r="2.9"/><circle cx="1265.3" cy="361.5" r="2.9"/><circle cx="1251.5" cy="392.1" r="2.9"/><circle cx="1275.8" cy="347.3" r="2.9"/><circle cx="1292.1" cy="333.3" r="2.9"/><circle cx="1284.6" cy="346.4" r="2.9"/><circle cx="1259.5" cy="369.3" r="2.9"/><circle cx="1225.8" cy="420.6" r="2.9"/><circle cx="1213.6" cy="398.2" r="2.9"/><circle cx="1276.6" cy="351.5" r="2.9"/><circle cx="1238.2" cy="435.2" r="2.9"/><circle cx="1294.0" cy="328.9" r="2.9"/><circle cx="1204.6" cy="420.7" r="2.9"/><circle cx="1230.8" cy="399.2" r="2.9"/><circle cx="1295.6" cy="326.9" r="2.9"/><circle cx="1233.7" cy="376.8" r="2.9"/><circle cx="1204.7" cy="436.3" r="2.9"/><circle cx="1230.3" cy="418.3" r="2.9"/><circle cx="1229.1" cy="392.1" r="2.9"/><circle cx="1196.8" cy="407.2" r="2.9"/><circle cx="1228.0" cy="388.1" r="2.9"/><circle cx="1230.0" cy="398.0" r="2.9"/><circle cx="1208.1" cy="409.3" r="2.9"/><circle cx="1244.9" cy="379.2" r="2.9"/><circle cx="1298.7" cy="326.1" r="2.9"/><circle cx="1222.7" cy="381.3" r="2.9"/><circle cx="1204.9" cy="414.7" r="2.9"/><circle cx="1296.8" cy="331.0" r="2.9"/><circle cx="1281.7" cy="331.7" r="2.9"/><circle cx="1253.5" cy="364.2" r="2.9"/><circle cx="1188.5" cy="405.1" r="2.9"/><circle cx="1242.1" cy="386.2" r="2.9"/><circle cx="1275.7" cy="357.2" r="2.9"/><circle cx="1215.0" cy="404.6" r="2.9"/><circle cx="1207.0" cy="413.4" r="2.9"/><circle cx="1291.2" cy="343.5" r="2.9"/><circle cx="1216.8" cy="408.4" r="2.9"/><circle cx="1280.3" cy="351.5" r="2.9"/><circle cx="1191.7" cy="419.7" r="2.9"/><circle cx="1193.6" cy="425.1" r="2.9"/><circle cx="1226.2" cy="439.8" r="2.9"/><circle cx="1191.2" cy="413.5" r="2.9"/><circle cx="1278.7" cy="358.8" r="2.9"/><circle cx="1265.0" cy="362.9" r="2.9"/><circle cx="1266.7" cy="362.8" r="2.9"/><circle cx="1291.8" cy="330.3" r="2.9"/><circle cx="1268.7" cy="353.0" r="2.9"/><circle cx="1213.9" cy="416.5" r="2.9"/><circle cx="1210.8" cy="391.0" r="2.9"/><circle cx="1249.3" cy="372.2" r="2.9"/><circle cx="1268.8" cy="359.2" r="2.9"/><circle cx="1226.0" cy="382.3" r="2.9"/><circle cx="1223.3" cy="390.6" r="2.9"/><circle cx="1297.6" cy="330.7" r="2.9"/><circle cx="1218.0" cy="388.8" r="2.9"/><circle cx="1274.1" cy="355.8" r="2.9"/><circle cx="1186.8" cy="435.0" r="2.9"/><circle cx="1197.4" cy="423.3" r="2.9"/><circle cx="1286.5" cy="349.5" r="2.9"/><circle cx="1214.7" cy="414.3" r="2.9"/><circle cx="1266.2" cy="367.3" r="2.9"/><circle cx="1226.9" cy="408.0" r="2.9"/><circle cx="1207.9" cy="406.8" r="2.9"/><circle cx="1279.2" cy="343.1" r="2.9"/><circle cx="1208.2" cy="439.7" r="2.9"/><circle cx="1269.7" cy="361.5" r="2.9"/><circle cx="1271.9" cy="354.4" r="2.9"/><circle cx="1241.1" cy="401.6" r="2.9"/><circle cx="1256.2" cy="393.6" r="2.9"/><circle cx="1296.9" cy="330.2" r="2.9"/><circle cx="1209.8" cy="438.1" r="2.9"/><circle cx="1251.5" cy="404.2" r="2.9"/><circle cx="1300.7" cy="328.2" r="2.9"/><circle cx="1216.6" cy="416.1" r="2.9"/><circle cx="1217.3" cy="404.8" r="2.9"/><circle cx="1263.2" cy="366.0" r="2.9"/><circle cx="1234.8" cy="419.4" r="2.9"/><circle cx="1210.8" cy="425.2" r="2.9"/><circle cx="1198.8" cy="413.0" r="2.9"/><circle cx="1298.2" cy="331.9" r="2.9"/><circle cx="1201.1" cy="433.9" r="2.9"/><circle cx="1188.0" cy="405.2" r="2.9"/><circle cx="1245.7" cy="363.9" r="2.9"/><circle cx="1294.8" cy="350.9" r="2.9"/><circle cx="1292.2" cy="347.0" r="2.9"/><circle cx="1283.4" cy="349.4" r="2.9"/><circle cx="1180.5" cy="410.1" r="2.9"/><circle cx="1272.2" cy="359.6" r="2.9"/><circle cx="1250.7" cy="365.9" r="2.9"/><circle cx="1263.7" cy="360.5" r="2.9"/><circle cx="1195.2" cy="416.4" r="2.9"/><circle cx="1282.8" cy="355.8" r="2.9"/><circle cx="1239.8" cy="380.9" r="2.9"/><circle cx="1229.5" cy="387.1" r="2.9"/><circle cx="1216.5" cy="408.0" r="2.9"/><circle cx="1203.4" cy="422.7" r="2.9"/><circle cx="1215.9" cy="412.4" r="2.9"/><circle cx="1239.4" cy="381.2" r="2.9"/><circle cx="1210.5" cy="407.3" r="2.9"/><circle cx="1218.8" cy="409.5" r="2.9"/><circle cx="1239.9" cy="375.8" r="2.9"/><circle cx="1209.3" cy="409.0" r="2.9"/><circle cx="1194.4" cy="411.8" r="2.9"/><circle cx="1208.6" cy="407.2" r="2.9"/><circle cx="1200.1" cy="401.1" r="2.9"/><circle cx="1293.4" cy="340.6" r="2.9"/><circle cx="1240.2" cy="377.3" r="2.9"/><circle cx="1305.4" cy="330.8" r="2.9"/><circle cx="1280.6" cy="327.1" r="2.9"/><circle cx="1147.5" cy="414.7" r="2.9"/><circle cx="1256.4" cy="367.5" r="2.9"/><circle cx="1292.8" cy="342.9" r="2.9"/><circle cx="1214.9" cy="421.3" r="2.9"/><circle cx="1220.7" cy="387.6" r="2.9"/><circle cx="1188.2" cy="376.6" r="2.9"/><circle cx="1233.3" cy="383.1" r="2.9"/><circle cx="1265.0" cy="363.8" r="2.9"/><circle cx="1191.1" cy="404.5" r="2.9"/><circle cx="1265.0" cy="357.4" r="2.9"/><circle cx="1249.5" cy="376.0" r="2.9"/><circle cx="1137.3" cy="406.5" r="2.9"/><circle cx="1214.4" cy="399.1" r="2.9"/><circle cx="1214.5" cy="400.6" r="2.9"/><circle cx="1217.5" cy="393.9" r="2.9"/><circle cx="1210.5" cy="411.7" r="2.9"/><circle cx="1260.6" cy="355.8" r="2.9"/><circle cx="1219.6" cy="390.2" r="2.9"/><circle cx="1238.5" cy="406.2" r="2.9"/><circle cx="1217.6" cy="386.6" r="2.9"/><circle cx="1293.6" cy="346.3" r="2.9"/><circle cx="1225.5" cy="387.6" r="2.9"/><circle cx="1213.4" cy="426.1" r="2.9"/><circle cx="1213.3" cy="400.4" r="2.9"/><circle cx="1299.8" cy="328.0" r="2.9"/><circle cx="1200.3" cy="432.2" r="2.9"/><circle cx="1269.4" cy="367.4" r="2.9"/><circle cx="1237.1" cy="414.0" r="2.9"/><circle cx="1145.4" cy="421.7" r="2.9"/><circle cx="1219.3" cy="408.9" r="2.9"/><circle cx="1253.5" cy="405.2" r="2.9"/><circle cx="1260.3" cy="364.7" r="2.9"/><circle cx="1272.2" cy="355.9" r="2.9"/><circle cx="1211.0" cy="424.5" r="2.9"/><circle cx="1261.3" cy="359.9" r="2.9"/><circle cx="1197.8" cy="425.3" r="2.9"/><circle cx="1195.1" cy="390.5" r="2.9"/><circle cx="1238.6" cy="375.8" r="2.9"/><circle cx="1247.0" cy="373.5" r="2.9"/><circle cx="1203.5" cy="427.1" r="2.9"/><circle cx="1217.0" cy="436.6" r="2.9"/><circle cx="1298.4" cy="332.2" r="2.9"/><circle cx="1239.6" cy="405.8" r="2.9"/><circle cx="1293.0" cy="331.2" r="2.9"/><circle cx="1258.0" cy="366.7" r="2.9"/><circle cx="1208.3" cy="426.9" r="2.9"/><circle cx="1232.1" cy="402.5" r="2.9"/><circle cx="1265.9" cy="360.6" r="2.9"/><circle cx="1161.7" cy="401.6" r="2.9"/><circle cx="1270.5" cy="353.7" r="2.9"/><circle cx="1205.7" cy="409.4" r="2.9"/><circle cx="1217.5" cy="409.6" r="2.9"/><circle cx="1255.1" cy="365.5" r="2.9"/><circle cx="1262.2" cy="361.1" r="2.9"/><circle cx="1167.8" cy="402.4" r="2.9"/><circle cx="1231.4" cy="397.8" r="2.9"/><circle cx="1305.6" cy="329.7" r="2.9"/><circle cx="1216.7" cy="390.4" r="2.9"/><circle cx="1294.5" cy="331.0" r="2.9"/><circle cx="1244.6" cy="399.0" r="2.9"/><circle cx="1271.2" cy="349.1" r="2.9"/><circle cx="1258.9" cy="369.3" r="2.9"/><circle cx="1295.2" cy="331.3" r="2.9"/><circle cx="1226.2" cy="390.6" r="2.9"/><circle cx="1187.4" cy="420.2" r="2.9"/><circle cx="1243.5" cy="384.0" r="2.9"/><circle cx="1218.4" cy="420.7" r="2.9"/><circle cx="1216.5" cy="388.5" r="2.9"/><circle cx="1243.7" cy="404.1" r="2.9"/><circle cx="1204.4" cy="410.0" r="2.9"/><circle cx="1304.7" cy="331.7" r="2.9"/><circle cx="1285.3" cy="328.9" r="2.9"/><circle cx="1277.7" cy="356.5" r="2.9"/><circle cx="1217.5" cy="394.0" r="2.9"/><circle cx="1242.6" cy="408.6" r="2.9"/><circle cx="1284.6" cy="330.5" r="2.9"/><circle cx="1235.8" cy="402.9" r="2.9"/><circle cx="1265.1" cy="360.1" r="2.9"/><circle cx="1204.5" cy="355.3" r="2.9"/><circle cx="1213.2" cy="401.3" r="2.9"/><circle cx="1272.4" cy="360.7" r="2.9"/><circle cx="1275.6" cy="358.7" r="2.9"/><circle cx="1241.4" cy="401.2" r="2.9"/><circle cx="1199.3" cy="409.9" r="2.9"/><circle cx="1225.7" cy="414.4" r="2.9"/><circle cx="1214.7" cy="385.3" r="2.9"/><circle cx="1229.1" cy="380.9" r="2.9"/><circle cx="1285.8" cy="345.8" r="2.9"/><circle cx="1202.8" cy="415.5" r="2.9"/><circle cx="1272.1" cy="349.5" r="2.9"/><circle cx="1214.2" cy="397.9" r="2.9"/><circle cx="1263.8" cy="360.2" r="2.9"/><circle cx="1242.8" cy="375.5" r="2.9"/><circle cx="1239.2" cy="343.0" r="2.9"/><circle cx="1284.0" cy="355.8" r="2.9"/><circle cx="1261.3" cy="366.7" r="2.9"/><circle cx="1240.7" cy="380.6" r="2.9"/><circle cx="1243.2" cy="362.8" r="2.9"/><circle cx="1218.9" cy="426.8" r="2.9"/><circle cx="1228.5" cy="410.6" r="2.9"/><circle cx="1305.0" cy="328.0" r="2.9"/><circle cx="1295.0" cy="334.1" r="2.9"/><circle cx="1218.9" cy="415.6" r="2.9"/><circle cx="1254.9" cy="365.7" r="2.9"/><circle cx="1198.1" cy="410.9" r="2.9"/><circle cx="1270.2" cy="357.6" r="2.9"/><circle cx="1303.7" cy="326.0" r="2.9"/><circle cx="1266.4" cy="355.0" r="2.9"/><circle cx="1250.9" cy="375.9" r="2.9"/><circle cx="1222.4" cy="393.2" r="2.9"/><circle cx="1254.9" cy="361.5" r="2.9"/><circle cx="1292.2" cy="345.0" r="2.9"/><circle cx="1240.8" cy="431.3" r="2.9"/><circle cx="1284.5" cy="326.3" r="2.9"/><circle cx="1233.3" cy="385.6" r="2.9"/><circle cx="1241.7" cy="376.8" r="2.9"/><circle cx="1283.5" cy="354.6" r="2.9"/><circle cx="1308.7" cy="327.0" r="2.9"/><circle cx="1285.4" cy="334.5" r="2.9"/><circle cx="1223.1" cy="398.0" r="2.9"/><circle cx="1253.9" cy="401.9" r="2.9"/><circle cx="1180.8" cy="437.2" r="2.9"/><circle cx="1231.1" cy="389.5" r="2.9"/><circle cx="1212.5" cy="390.4" r="2.9"/><circle cx="1248.6" cy="369.2" r="2.9"/><circle cx="1264.2" cy="392.1" r="2.9"/><circle cx="1295.9" cy="341.8" r="2.9"/><circle cx="1185.2" cy="432.9" r="2.9"/><circle cx="1218.4" cy="412.1" r="2.9"/><circle cx="1233.1" cy="394.5" r="2.9"/></g>
<path d="M1139 456.4L1308 337" stroke="#000" stroke-width="3.7" fill="none"/>
<text x="1214.74" y="320" class="mt" text-anchor="middle">m = 0.7087</text>
<text x="1031.3" y="236.5" class="pl">j</text>
</g>
<g>
<rect x="1362" y="247.8" width="313.9" height="30.5" fill="#D0D0D0"/>
<rect x="1362" y="278.3" width="313.9" height="194.2" fill="#E6E6E6"/>
<text x="1519" y="269.4" class="st" text-anchor="middle">DC18</text>
<path d="M1362 279.57H1675.9M1362 320.52H1675.9M1362 361.48H1675.9M1362 402.43H1675.9M1362 443.38H1675.9M1376.62 278.3V472.5M1458.18 278.3V472.5M1539.74 278.3V472.5M1621.3 278.3V472.5" stroke="#fff" stroke-width="0.9" fill="none"/>
<path d="M1362 300.05H1675.9M1362 341H1675.9M1362 381.95H1675.9M1362 422.9H1675.9M1362 463.85H1675.9M1417.4 278.3V472.5M1498.96 278.3V472.5M1580.52 278.3V472.5M1662.08 278.3V472.5" stroke="#fff" stroke-width="1.6" fill="none"/>
<path d="M1361.1 300.05H1362M1361.1 341H1362M1361.1 381.95H1362M1361.1 422.9H1362M1361.1 463.85H1362" stroke="#444" stroke-width="1.1" fill="none"/>
<text x="1418" y="498.2" class="lg" text-anchor="middle">10<tspan class="sp" dx="0.6" dy="-8.1">-6</tspan></text>
<text x="1499.56" y="498.2" class="lg" text-anchor="middle">10<tspan class="sp" dx="0.6" dy="-8.1">-4</tspan></text>
<text x="1581.12" y="498.2" class="lg" text-anchor="middle">10<tspan class="sp" dx="0.6" dy="-8.1">-2</tspan></text>
<text x="1662.68" y="498.2" class="lg" text-anchor="middle">10<tspan class="sp" dx="0.6" dy="-8.1">0</tspan></text>
<path d="M1417.4 472.5V477.5M1498.96 472.5V477.5M1580.52 472.5V477.5M1662.08 472.5V477.5" stroke="#222" stroke-width="2.1" fill="none"/>
<text x="1511.2" y="527.6" class="at">μ<tspan class="sb" dy="4.6">d</tspan></text>
<g fill="#00BFC4" fill-opacity="0.34"><circle cx="1573.1" cy="407.5" r="2.9"/><circle cx="1605.1" cy="355.2" r="2.9"/><circle cx="1632.5" cy="337.7" r="2.9"/><circle cx="1609.9" cy="358.2" r="2.9"/><circle cx="1623.4" cy="345.2" r="2.9"/><circle cx="1535.7" cy="415.9" r="2.9"/><circle cx="1598.2" cy="366.5" r="2.9"/><circle cx="1596.3" cy="363.9" r="2.9"/><circle cx="1557.3" cy="421.4" r="2.9"/><circle cx="1558.2" cy="394.9" r="2.9"/><circle cx="1608.3" cy="360.7" r="2.9"/><circle cx="1576.3" cy="387.4" r="2.9"/><circle cx="1629.5" cy="327.9" r="2.9"/><circle cx="1594.1" cy="377.0" r="2.9"/><circle cx="1579.0" cy="414.6" r="2.9"/><circle cx="1591.5" cy="375.6" r="2.9"/><circle cx="1616.7" cy="356.1" r="2.9"/><circle cx="1564.8" cy="416.5" r="2.9"/><circle cx="1582.0" cy="380.4" r="2.9"/><circle cx="1597.9" cy="369.3" r="2.9"/><circle cx="1616.3" cy="353.2" r="2.9"/><circle cx="1558.1" cy="394.2" r="2.9"/><circle cx="1577.5" cy="399.5" r="2.9"/><circle cx="1583.7" cy="406.6" r="2.9"/><circle cx="1632.7" cy="340.0" r="2.9"/><circle cx="1611.6" cy="358.4" r="2.9"/><circle cx="1571.7" cy="388.9" r="2.9"/><circle cx="1633.1" cy="332.3" r="2.9"/><circle cx="1603.0" cy="366.8" r="2.9"/><circle cx="1560.8" cy="407.5" r="2.9"/><circle cx="1557.6" cy="431.6" r="2.9"/><circle cx="1633.9" cy="330.3" r="2.9"/><circle cx="1590.5" cy="393.5" r="2.9"/><circle cx="1541.8" cy="433.2" r="2.9"/><circle cx="1594.3" cy="377.0" r="2.9"/><circle cx="1584.8" cy="391.5" r="2.9"/><circle cx="1565.9" cy="388.2" r="2.9"/><circle cx="1617.6" cy="351.7" r="2.9"/><circle cx="1635.8" cy="336.3" r="2.9"/><circle cx="1562.8" cy="397.9" r="2.9"/><circle cx="1578.7" cy="387.7" r="2.9"/><circle cx="1569.4" cy="402.0" r="2.9"/><circle cx="1588.0" cy="375.7" r="2.9"/><circle cx="1624.0" cy="348.3" r="2.9"/><circle cx="1623.4" cy="347.5" r="2.9"/><circle cx="1613.9" cy="347.9" r="2.9"/><circle cx="1541.5" cy="418.7" r="2.9"/><circle cx="1629.8" cy="334.5" r="2.9"/><circle cx="1575.1" cy="394.2" r="2.9"/><circle cx="1548.5" cy="417.3" r="2.9"/><circle cx="1620.2" cy="354.8" r="2.9"/><circle cx="1589.5" cy="376.5" r="2.9"/><circle cx="1564.4" cy="404.6" r="2.9"/><circle cx="1547.9" cy="400.4" r="2.9"/><circle cx="1574.9" cy="393.4" r="2.9"/><circle cx="1592.5" cy="366.3" r="2.9"/><circle cx="1584.4" cy="384.1" r="2.9"/><circle cx="1568.1" cy="401.2" r="2.9"/><circle cx="1551.1" cy="424.3" r="2.9"/><circle cx="1561.6" cy="410.6" r="2.9"/><circle cx="1572.7" cy="386.5" r="2.9"/><circle cx="1572.0" cy="395.5" r="2.9"/><circle cx="1619.1" cy="349.8" r="2.9"/><circle cx="1561.3" cy="419.0" r="2.9"/><circle cx="1627.6" cy="340.4" r="2.9"/><circle cx="1569.4" cy="384.7" r="2.9"/><circle cx="1613.7" cy="350.0" r="2.9"/><circle cx="1572.7" cy="386.2" r="2.9"/><circle cx="1570.2" cy="390.1" r="2.9"/><circle cx="1588.0" cy="378.0" r="2.9"/><circle cx="1634.9" cy="332.7" r="2.9"/><circle cx="1598.8" cy="359.8" r="2.9"/><circle cx="1625.0" cy="345.9" r="2.9"/><circle cx="1631.9" cy="337.8" r="2.9"/><circle cx="1580.9" cy="385.6" r="2.9"/><circle cx="1576.0" cy="388.1" r="2.9"/><circle cx="1564.7" cy="409.9" r="2.9"/><circle cx="1556.1" cy="412.8" r="2.9"/><circle cx="1569.3" cy="391.3" r="2.9"/><circle cx="1591.3" cy="377.0" r="2.9"/><circle cx="1566.6" cy="399.0" r="2.9"/><circle cx="1563.5" cy="411.0" r="2.9"/><circle cx="1600.9" cy="396.3" r="2.9"/><circle cx="1567.5" cy="403.3" r="2.9"/><circle cx="1567.8" cy="413.5" r="2.9"/><circle cx="1625.4" cy="344.8" r="2.9"/><circle cx="1613.5" cy="358.0" r="2.9"/><circle cx="1632.1" cy="327.5" r="2.9"/><circle cx="1605.4" cy="366.1" r="2.9"/><circle cx="1561.6" cy="398.0" r="2.9"/><circle cx="1617.4" cy="353.1" r="2.9"/><circle cx="1563.5" cy="406.4" r="2.9"/><circle cx="1610.9" cy="362.3" r="2.9"/><circle cx="1599.2" cy="365.3" r="2.9"/><circle cx="1629.8" cy="340.9" r="2.9"/><circle cx="1608.1" cy="362.0" r="2.9"/><circle cx="1567.9" cy="405.2" r="2.9"/><circle cx="1570.1" cy="394.8" r="2.9"/><circle cx="1600.6" cy="361.7" r="2.9"/><circle cx="1555.9" cy="420.3" r="2.9"/><circle cx="1624.5" cy="350.3" r="2.9"/><circle cx="1631.9" cy="332.3" r="2.9"/><circle cx="1550.0" cy="424.4" r="2.9"/><circle cx="1570.9" cy="395.2" r="2.9"/><circle cx="1613.7" cy="355.5" r="2.9"/><circle cx="1626.9" cy="344.1" r="2.9"/><circle cx="1551.0" cy="412.9" r="2.9"/><circle cx="1568.3" cy="405.4" r="2.9"/><circle cx="1576.9" cy="410.5" r="2.9"/><circle cx="1557.5" cy="415.4" r="2.9"/><circle cx="1610.3" cy="367.7" r="2.9"/><circle cx="1619.8" cy="351.9" r="2.9"/><circle cx="1558.1" cy="414.5" r="2.9"/><circle cx="1587.8" cy="380.5" r="2.9"/><circle cx="1594.4" cy="368.9" r="2.9"/><circle cx="1557.2" cy="430.1" r="2.9"/><circle cx="1583.1" cy="379.0" r="2.9"/><circle cx="1566.0" cy="392.3" r="2.9"/><circle cx="1557.6" cy="407.3" r="2.9"/><circle cx="1593.5" cy="374.1" r="2.9"/><circle cx="1570.5" cy="403.8" r="2.9"/><circle cx="1614.3" cy="357.8" r="2.9"/><circle cx="1570.2" cy="403.4" r="2.9"/><circle cx="1525.5" cy="427.0" r="2.9"/><circle cx="1619.0" cy="345.2" r="2.9"/><circle cx="1573.6" cy="383.8" r="2.9"/><circle cx="1634.4" cy="332.2" r="2.9"/><circle cx="1544.2" cy="433.7" r="2.9"/><circle cx="1620.3" cy="350.5" r="2.9"/></g>
<path d="M1527.4 437L1638 336.4" stroke="#000" stroke-width="3.7" fill="none"/>
<text x="1539.74" y="320" class="mt" text-anchor="middle">m = 0.91443</text>
<text x="1353.3" y="236" class="pl">k</text>
</g>
<g>
<rect x="1686" y="247.8" width="316" height="30.5" fill="#D0D0D0"/>
<rect x="1686" y="278.3" width="316" height="194.2" fill="#E6E6E6"/>
<text x="1842.7" y="270.2" class="st" text-anchor="middle">DC16</text>
<path d="M1686 279.57H2002M1686 320.52H2002M1686 361.48H2002M1686 402.43H2002M1686 443.38H2002M1700.62 278.3V472.5M1782.18 278.3V472.5M1863.74 278.3V472.5M1945.3 278.3V472.5" stroke="#fff" stroke-width="0.9" fill="none"/>
<path d="M1686 300.05H2002M1686 341H2002M1686 381.95H2002M1686 422.9H2002M1686 463.85H2002M1741.4 278.3V472.5M1822.96 278.3V472.5M1904.52 278.3V472.5M1986.08 278.3V472.5" stroke="#fff" stroke-width="1.6" fill="none"/>
<path d="M1685.1 300.05H1686M1685.1 341H1686M1685.1 381.95H1686M1685.1 422.9H1686M1685.1 463.85H1686" stroke="#444" stroke-width="1.1" fill="none"/>
<text x="1742" y="498.2" class="lg" text-anchor="middle">10<tspan class="sp" dx="0.6" dy="-8.1">-6</tspan></text>
<text x="1823.56" y="498.2" class="lg" text-anchor="middle">10<tspan class="sp" dx="0.6" dy="-8.1">-4</tspan></text>
<text x="1905.12" y="498.2" class="lg" text-anchor="middle">10<tspan class="sp" dx="0.6" dy="-8.1">-2</tspan></text>
<text x="1986.68" y="498.2" class="lg" text-anchor="middle">10<tspan class="sp" dx="0.6" dy="-8.1">0</tspan></text>
<path d="M1741.4 472.5V477.5M1822.96 472.5V477.5M1904.52 472.5V477.5M1986.08 472.5V477.5" stroke="#222" stroke-width="2.1" fill="none"/>
<text x="1834.2" y="530.2" class="at">μ<tspan class="sb" dy="4.6">d</tspan></text>
<g fill="#00BA38" fill-opacity="0.34"><circle cx="1934.6" cy="370.4" r="2.9"/><circle cx="1985.1" cy="326.5" r="2.9"/><circle cx="1910.1" cy="373.7" r="2.9"/><circle cx="1911.9" cy="402.9" r="2.9"/><circle cx="1948.8" cy="356.8" r="2.9"/><circle cx="1916.4" cy="403.1" r="2.9"/><circle cx="1929.5" cy="370.4" r="2.9"/><circle cx="1921.8" cy="379.4" r="2.9"/><circle cx="1973.0" cy="330.4" r="2.9"/><circle cx="1914.0" cy="406.7" r="2.9"/><circle cx="1899.5" cy="430.0" r="2.9"/><circle cx="1900.0" cy="426.0" r="2.9"/><circle cx="1962.4" cy="350.7" r="2.9"/><circle cx="1904.9" cy="406.6" r="2.9"/><circle cx="1904.5" cy="373.8" r="2.9"/><circle cx="1926.4" cy="388.1" r="2.9"/><circle cx="1927.2" cy="395.6" r="2.9"/><circle cx="1952.4" cy="358.8" r="2.9"/><circle cx="1973.3" cy="328.2" r="2.9"/><circle cx="1913.9" cy="396.3" r="2.9"/><circle cx="1927.8" cy="376.2" r="2.9"/><circle cx="1959.8" cy="349.5" r="2.9"/><circle cx="1971.7" cy="334.3" r="2.9"/><circle cx="1930.1" cy="375.0" r="2.9"/><circle cx="1962.5" cy="345.6" r="2.9"/><circle cx="1933.1" cy="378.7" r="2.9"/><circle cx="1886.5" cy="418.5" r="2.9"/><circle cx="1964.6" cy="347.8" r="2.9"/><circle cx="1968.0" cy="330.7" r="2.9"/><circle cx="1918.9" cy="403.1" r="2.9"/><circle cx="1915.4" cy="399.2" r="2.9"/><circle cx="1939.0" cy="372.8" r="2.9"/><circle cx="1901.4" cy="420.7" r="2.9"/><circle cx="1978.0" cy="333.6" r="2.9"/><circle cx="1972.0" cy="339.9" r="2.9"/><circle cx="1907.9" cy="399.9" r="2.9"/><circle cx="1890.2" cy="426.3" r="2.9"/><circle cx="1922.9" cy="395.2" r="2.9"/><circle cx="1967.7" cy="330.5" r="2.9"/><circle cx="1985.5" cy="330.6" r="2.9"/><circle cx="1934.6" cy="394.2" r="2.9"/><circle cx="1912.7" cy="390.0" r="2.9"/><circle cx="1974.0" cy="334.2" r="2.9"/><circle cx="1962.8" cy="351.6" r="2.9"/><circle cx="1914.5" cy="396.2" r="2.9"/><circle cx="1896.7" cy="405.6" r="2.9"/><circle cx="1982.8" cy="329.6" r="2.9"/><circle cx="1892.8" cy="428.1" r="2.9"/><circle cx="1916.3" cy="384.6" r="2.9"/><circle cx="1963.5" cy="347.6" r="2.9"/><circle cx="1970.9" cy="335.4" r="2.9"/><circle cx="1918.3" cy="423.4" r="2.9"/><circle cx="1977.8" cy="326.5" r="2.9"/><circle cx="1888.2" cy="384.0" r="2.9"/><circle cx="1967.9" cy="344.6" r="2.9"/><circle cx="1952.0" cy="352.7" r="2.9"/><circle cx="1913.4" cy="409.1" r="2.9"/><circle cx="1896.8" cy="414.7" r="2.9"/><circle cx="1951.1" cy="358.2" r="2.9"/><circle cx="1920.2" cy="390.3" r="2.9"/><circle cx="1951.7" cy="372.7" r="2.9"/><circle cx="1929.5" cy="379.2" r="2.9"/><circle cx="1918.1" cy="387.5" r="2.9"/><circle cx="1903.6" cy="405.6" r="2.9"/><circle cx="1912.1" cy="400.4" r="2.9"/><circle cx="1886.7" cy="414.2" r="2.9"/><circle cx="1909.2" cy="415.5" r="2.9"/><circle cx="1963.4" cy="350.3" r="2.9"/><circle cx="1954.0" cy="356.0" r="2.9"/><circle cx="1935.1" cy="339.0" r="2.9"/><circle cx="1940.3" cy="383.2" r="2.9"/><circle cx="1969.4" cy="342.4" r="2.9"/><circle cx="1939.2" cy="365.7" r="2.9"/><circle cx="1925.9" cy="385.2" r="2.9"/><circle cx="1969.3" cy="344.1" r="2.9"/><circle cx="1970.0" cy="337.5" r="2.9"/><circle cx="1955.2" cy="358.7" r="2.9"/><circle cx="1914.8" cy="390.1" r="2.9"/><circle cx="1909.6" cy="417.7" r="2.9"/><circle cx="1970.1" cy="343.2" r="2.9"/><circle cx="1947.0" cy="367.2" r="2.9"/><circle cx="1968.6" cy="328.0" r="2.9"/><circle cx="1983.9" cy="327.2" r="2.9"/><circle cx="1887.9" cy="426.1" r="2.9"/><circle cx="1919.4" cy="408.8" r="2.9"/><circle cx="1918.7" cy="387.7" r="2.9"/><circle cx="1934.3" cy="382.5" r="2.9"/><circle cx="1925.0" cy="379.1" r="2.9"/><circle cx="1946.1" cy="372.3" r="2.9"/><circle cx="1973.8" cy="330.6" r="2.9"/><circle cx="1921.2" cy="394.6" r="2.9"/><circle cx="1912.0" cy="412.7" r="2.9"/><circle cx="1980.7" cy="340.3" r="2.9"/><circle cx="1896.2" cy="400.8" r="2.9"/><circle cx="1902.1" cy="413.4" r="2.9"/><circle cx="1924.0" cy="387.5" r="2.9"/><circle cx="1962.8" cy="340.3" r="2.9"/><circle cx="1917.3" cy="379.9" r="2.9"/><circle cx="1907.3" cy="403.9" r="2.9"/><circle cx="1972.6" cy="328.3" r="2.9"/><circle cx="1927.3" cy="382.8" r="2.9"/><circle cx="1965.7" cy="349.5" r="2.9"/><circle cx="1926.7" cy="397.9" r="2.9"/><circle cx="1957.6" cy="328.2" r="2.9"/><circle cx="1940.6" cy="362.4" r="2.9"/><circle cx="1965.0" cy="353.1" r="2.9"/><circle cx="1924.9" cy="377.4" r="2.9"/><circle cx="1952.9" cy="357.8" r="2.9"/><circle cx="1906.0" cy="399.7" r="2.9"/><circle cx="1902.1" cy="398.6" r="2.9"/><circle cx="1931.2" cy="381.0" r="2.9"/><circle cx="1968.2" cy="328.9" r="2.9"/><circle cx="1936.7" cy="378.6" r="2.9"/><circle cx="1900.2" cy="427.9" r="2.9"/><circle cx="1917.1" cy="405.5" r="2.9"/><circle cx="1916.1" cy="414.2" r="2.9"/><circle cx="1928.3" cy="397.5" r="2.9"/><circle cx="1887.3" cy="435.2" r="2.9"/><circle cx="1942.6" cy="370.6" r="2.9"/><circle cx="1918.3" cy="389.1" r="2.9"/><circle cx="1921.7" cy="387.6" r="2.9"/><circle cx="1963.1" cy="348.9" r="2.9"/><circle cx="1911.2" cy="409.9" r="2.9"/><circle cx="1947.7" cy="365.9" r="2.9"/><circle cx="1972.5" cy="347.5" r="2.9"/><circle cx="1939.2" cy="398.3" r="2.9"/><circle cx="1935.5" cy="374.1" r="2.9"/><circle cx="1935.9" cy="376.1" r="2.9"/><circle cx="1927.5" cy="383.1" r="2.9"/><circle cx="1984.3" cy="327.0" r="2.9"/><circle cx="1913.9" cy="400.8" r="2.9"/><circle cx="1931.7" cy="367.8" r="2.9"/><circle cx="1914.6" cy="419.7" r="2.9"/><circle cx="1974.5" cy="343.8" r="2.9"/><circle cx="1920.6" cy="378.5" r="2.9"/><circle cx="1905.7" cy="427.6" r="2.9"/><circle cx="1902.2" cy="410.9" r="2.9"/><circle cx="1971.5" cy="343.1" r="2.9"/><circle cx="1982.8" cy="327.5" r="2.9"/><circle cx="1890.2" cy="394.2" r="2.9"/><circle cx="1984.2" cy="335.1" r="2.9"/><circle cx="1952.8" cy="358.1" r="2.9"/><circle cx="1942.2" cy="373.4" r="2.9"/><circle cx="1956.9" cy="367.9" r="2.9"/><circle cx="1960.3" cy="349.4" r="2.9"/><circle cx="1913.7" cy="404.0" r="2.9"/><circle cx="1971.8" cy="334.9" r="2.9"/><circle cx="1923.2" cy="381.9" r="2.9"/><circle cx="1970.3" cy="332.9" r="2.9"/><circle cx="1968.3" cy="326.5" r="2.9"/><circle cx="1901.7" cy="428.9" r="2.9"/><circle cx="1979.5" cy="329.5" r="2.9"/><circle cx="1939.5" cy="365.1" r="2.9"/><circle cx="1953.7" cy="364.4" r="2.9"/><circle cx="1951.3" cy="360.2" r="2.9"/><circle cx="1964.5" cy="334.5" r="2.9"/><circle cx="1958.0" cy="360.2" r="2.9"/><circle cx="1922.1" cy="393.3" r="2.9"/><circle cx="1952.0" cy="361.6" r="2.9"/><circle cx="1914.7" cy="407.8" r="2.9"/><circle cx="1953.1" cy="364.0" r="2.9"/><circle cx="1919.9" cy="403.5" r="2.9"/><circle cx="1939.2" cy="369.6" r="2.9"/><circle cx="1911.8" cy="423.0" r="2.9"/><circle cx="1969.2" cy="331.8" r="2.9"/><circle cx="1921.5" cy="378.1" r="2.9"/><circle cx="1965.0" cy="336.9" r="2.9"/><circle cx="1961.0" cy="353.2" r="2.9"/><circle cx="1910.7" cy="401.8" r="2.9"/><circle cx="1985.0" cy="335.1" r="2.9"/><circle cx="1932.3" cy="382.2" r="2.9"/><circle cx="1969.1" cy="332.3" r="2.9"/><circle cx="1930.5" cy="400.8" r="2.9"/><circle cx="1968.0" cy="331.1" r="2.9"/><circle cx="1941.5" cy="377.9" r="2.9"/><circle cx="1911.8" cy="404.3" r="2.9"/><circle cx="1925.9" cy="385.1" r="2.9"/><circle cx="1958.2" cy="350.1" r="2.9"/><circle cx="1917.1" cy="427.8" r="2.9"/><circle cx="1861.7" cy="429.0" r="2.9"/><circle cx="1930.4" cy="388.6" r="2.9"/><circle cx="1906.1" cy="407.1" r="2.9"/><circle cx="1971.4" cy="329.5" r="2.9"/><circle cx="1970.1" cy="340.0" r="2.9"/><circle cx="1949.5" cy="357.7" r="2.9"/><circle cx="1922.6" cy="388.5" r="2.9"/><circle cx="1936.0" cy="393.5" r="2.9"/><circle cx="1895.8" cy="411.5" r="2.9"/><circle cx="1898.0" cy="416.6" r="2.9"/><circle cx="1965.4" cy="343.7" r="2.9"/><circle cx="1968.4" cy="327.5" r="2.9"/><circle cx="1936.6" cy="374.7" r="2.9"/><circle cx="1953.0" cy="366.4" r="2.9"/><circle cx="1916.5" cy="406.9" r="2.9"/><circle cx="1927.5" cy="378.6" r="2.9"/><circle cx="1976.5" cy="340.8" r="2.9"/><circle cx="1960.5" cy="355.5" r="2.9"/><circle cx="1934.5" cy="394.2" r="2.9"/><circle cx="1923.6" cy="393.7" r="2.9"/><circle cx="1928.4" cy="400.4" r="2.9"/><circle cx="1982.3" cy="327.6" r="2.9"/><circle cx="1919.8" cy="374.7" r="2.9"/><circle cx="1980.1" cy="331.6" r="2.9"/><circle cx="1972.6" cy="328.1" r="2.9"/><circle cx="1920.6" cy="383.4" r="2.9"/><circle cx="1967.3" cy="346.0" r="2.9"/><circle cx="1982.6" cy="331.4" r="2.9"/><circle cx="1919.8" cy="386.4" r="2.9"/><circle cx="1963.8" cy="343.1" r="2.9"/><circle cx="1915.4" cy="401.4" r="2.9"/><circle cx="1984.7" cy="338.2" r="2.9"/><circle cx="1954.8" cy="352.7" r="2.9"/><circle cx="1913.6" cy="392.7" r="2.9"/><circle cx="1884.1" cy="432.4" r="2.9"/><circle cx="1935.6" cy="378.5" r="2.9"/><circle cx="1926.2" cy="394.4" r="2.9"/><circle cx="1914.3" cy="421.7" r="2.9"/><circle cx="1910.7" cy="393.1" r="2.9"/><circle cx="1968.4" cy="339.8" r="2.9"/><circle cx="1944.0" cy="365.9" r="2.9"/><circle cx="1916.4" cy="388.7" r="2.9"/><circle cx="1910.7" cy="421.6" r="2.9"/><circle cx="1971.9" cy="344.9" r="2.9"/><circle cx="1923.6" cy="388.5" r="2.9"/><circle cx="1937.3" cy="394.5" r="2.9"/><circle cx="1976.5" cy="343.2" r="2.9"/><circle cx="1903.4" cy="414.8" r="2.9"/><circle cx="1946.8" cy="360.4" r="2.9"/><circle cx="1965.0" cy="351.4" r="2.9"/><circle cx="1915.6" cy="396.1" r="2.9"/><circle cx="1928.5" cy="399.1" r="2.9"/><circle cx="1937.8" cy="387.3" r="2.9"/><circle cx="1943.6" cy="364.8" r="2.9"/><circle cx="1920.2" cy="395.8" r="2.9"/><circle cx="1915.8" cy="397.9" r="2.9"/><circle cx="1923.1" cy="395.0" r="2.9"/><circle cx="1965.7" cy="354.5" r="2.9"/><circle cx="1930.7" cy="378.2" r="2.9"/><circle cx="1907.8" cy="433.7" r="2.9"/><circle cx="1906.3" cy="419.5" r="2.9"/><circle cx="1923.0" cy="392.4" r="2.9"/><circle cx="1901.3" cy="422.4" r="2.9"/><circle cx="1974.9" cy="337.3" r="2.9"/><circle cx="1896.9" cy="422.0" r="2.9"/><circle cx="1925.9" cy="409.4" r="2.9"/><circle cx="1981.0" cy="344.7" r="2.9"/><circle cx="1910.3" cy="407.2" r="2.9"/><circle cx="1968.7" cy="342.1" r="2.9"/><circle cx="1904.4" cy="424.2" r="2.9"/><circle cx="1968.5" cy="340.5" r="2.9"/><circle cx="1961.9" cy="336.5" r="2.9"/><circle cx="1917.4" cy="391.8" r="2.9"/><circle cx="1911.4" cy="416.6" r="2.9"/><circle cx="1973.1" cy="339.3" r="2.9"/><circle cx="1961.8" cy="340.9" r="2.9"/><circle cx="1917.7" cy="410.0" r="2.9"/><circle cx="1892.5" cy="420.4" r="2.9"/><circle cx="1914.2" cy="423.6" r="2.9"/><circle cx="1941.2" cy="360.4" r="2.9"/><circle cx="1950.9" cy="351.1" r="2.9"/><circle cx="1950.9" cy="366.7" r="2.9"/><circle cx="1911.2" cy="422.3" r="2.9"/><circle cx="1891.9" cy="426.4" r="2.9"/><circle cx="1936.0" cy="375.2" r="2.9"/><circle cx="1926.0" cy="390.7" r="2.9"/><circle cx="1978.7" cy="337.0" r="2.9"/><circle cx="1949.7" cy="366.6" r="2.9"/><circle cx="1916.1" cy="396.9" r="2.9"/><circle cx="1968.6" cy="345.1" r="2.9"/><circle cx="1972.7" cy="343.8" r="2.9"/><circle cx="1935.0" cy="382.4" r="2.9"/><circle cx="1939.2" cy="370.8" r="2.9"/><circle cx="1920.8" cy="397.2" r="2.9"/><circle cx="1909.2" cy="382.8" r="2.9"/><circle cx="1939.3" cy="363.9" r="2.9"/><circle cx="1962.5" cy="354.1" r="2.9"/><circle cx="1904.5" cy="459.8" r="2.9"/><circle cx="1974.5" cy="338.4" r="2.9"/><circle cx="1939.5" cy="370.7" r="2.9"/><circle cx="1931.3" cy="392.5" r="2.9"/><circle cx="1898.1" cy="435.8" r="2.9"/><circle cx="1897.5" cy="436.3" r="2.9"/><circle cx="1911.8" cy="402.7" r="2.9"/><circle cx="1928.6" cy="380.5" r="2.9"/><circle cx="1927.6" cy="374.5" r="2.9"/><circle cx="1921.1" cy="416.7" r="2.9"/><circle cx="1961.9" cy="349.4" r="2.9"/><circle cx="1954.2" cy="357.3" r="2.9"/><circle cx="1962.1" cy="354.1" r="2.9"/><circle cx="1909.5" cy="397.7" r="2.9"/><circle cx="1907.8" cy="416.8" r="2.9"/><circle cx="1916.5" cy="417.2" r="2.9"/><circle cx="1934.8" cy="371.0" r="2.9"/><circle cx="1894.3" cy="409.4" r="2.9"/><circle cx="1968.5" cy="336.0" r="2.9"/><circle cx="1966.7" cy="346.6" r="2.9"/><circle cx="1926.8" cy="380.5" r="2.9"/><circle cx="1968.3" cy="342.5" r="2.9"/><circle cx="1921.1" cy="392.3" r="2.9"/><circle cx="1975.8" cy="341.2" r="2.9"/><circle cx="1974.2" cy="343.3" r="2.9"/><circle cx="1946.5" cy="354.8" r="2.9"/><circle cx="1969.4" cy="350.8" r="2.9"/><circle cx="1935.9" cy="383.5" r="2.9"/><circle cx="1942.9" cy="369.4" r="2.9"/><circle cx="1956.7" cy="361.0" r="2.9"/><circle cx="1895.5" cy="411.0" r="2.9"/><circle cx="1909.2" cy="389.1" r="2.9"/><circle cx="1963.7" cy="333.5" r="2.9"/><circle cx="1963.0" cy="338.9" r="2.9"/><circle cx="1963.7" cy="351.7" r="2.9"/><circle cx="1942.3" cy="368.2" r="2.9"/><circle cx="1956.6" cy="356.1" r="2.9"/><circle cx="1908.2" cy="394.4" r="2.9"/><circle cx="1923.3" cy="409.4" r="2.9"/><circle cx="1971.7" cy="343.9" r="2.9"/><circle cx="1899.9" cy="429.6" r="2.9"/><circle cx="1939.1" cy="366.0" r="2.9"/></g>
<path d="M1863.6 454.4L1985.6 325.6" stroke="#000" stroke-width="3.7" fill="none"/>
<text x="1863.74" y="320" class="mt" text-anchor="middle">m = 1.0534</text>
<text x="1679.8" y="235" class="pl">l</text>
</g>
<text x="54.9" y="308.05" class="lg" text-anchor="end">10<tspan class="sp" dx="0.6" dy="-8.1">1</tspan></text>
<text x="54.9" y="349" class="lg" text-anchor="end">10<tspan class="sp" dx="0.6" dy="-8.1">0</tspan></text>
<text x="54.9" y="389.95" class="lg" text-anchor="end">10<tspan class="sp" dx="0.6" dy="-8.1">-1</tspan></text>
<text x="54.9" y="430.9" class="lg" text-anchor="end">10<tspan class="sp" dx="0.6" dy="-8.1">-2</tspan></text>
<text x="54.9" y="471.85" class="lg" text-anchor="end">10<tspan class="sp" dx="0.6" dy="-8.1">-3</tspan></text>
<path d="M58 300.05H63M58 341H63M58 381.95H63M58 422.9H63M58 463.85H63" stroke="#222" stroke-width="2.1" fill="none"/>
<text x="0.2" y="372.8" class="at">s<tspan class="sb" dy="5.2">d</tspan></text>
<circle cx="240" cy="384.9" r="15.3" fill="#C00000" stroke="#000" stroke-width="1.3"/>
<text x="240" y="391.9" class="mk" text-anchor="middle">A</text>
<circle cx="1887" cy="428.1" r="15.3" fill="#00B050" stroke="#000" stroke-width="1.6"/>
<text x="1887.2" y="435.7" class="mk" style="font-size:18.7px" text-anchor="middle">B</text>
</g>
<g id="arrow">
<path d="M163 606.2L195 590V600.6H1832.5V590L1865 606.2L1832.5 622.3V611.8H195V622.3Z" fill="#000"/>
<text x="216" y="588.3" class="bi">small slope, m</text>
<text x="213" y="638.5" class="cp">low heterogeneity</text>
<text x="1790.6" y="590" class="bi" text-anchor="end">steep slope, m</text>
<text x="1790.8" y="638.3" class="cp" text-anchor="end">high heterogeneity</text>
<text x="820.3" y="654.9" class="fm">log<tspan class="fs" dy="4.8">10</tspan><tspan dy="-4.8">(s</tspan><tspan class="fs" dy="4.8">d</tspan><tspan dy="-4.8">) = m log</tspan><tspan class="fs" dy="4.8">10</tspan><tspan dy="-4.8">(μ</tspan><tspan class="fs" dy="4.8">d</tspan><tspan dy="-4.8">) + b</tspan></text>
</g>
</svg>
</body>
</html>
